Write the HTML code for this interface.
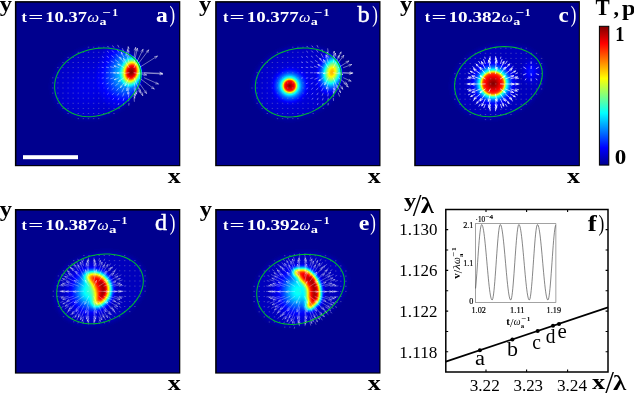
<!DOCTYPE html><html><head><meta charset="utf-8"><title>figure</title><style>html,body{margin:0;padding:0;background:#fff;overflow:hidden}svg{display:block;will-change:transform}text{font-family:"Liberation Serif",serif}</style></head><body><svg width="634" height="393" viewBox="0 0 634 393"><rect width="634" height="393" fill="#fff"/><defs><filter id="jet" x="0" y="0" width="1" height="1" color-interpolation-filters="sRGB"><feComponentTransfer><feFuncR type="table" tableValues="0 0 0 0 0.5 1 1 1 0.5"/><feFuncG type="table" tableValues="0 0 0.5 1 1 1 0.5 0 0"/><feFuncB type="table" tableValues="0.56 1 1 1 0.5 0 0 0 0"/></feComponentTransfer></filter><filter id="b1" x="-1" y="-1" width="3" height="3"><feGaussianBlur stdDeviation="1"/></filter><filter id="b3" x="-1" y="-1" width="3" height="3"><feGaussianBlur stdDeviation="3"/></filter><filter id="b15" x="-1" y="-1" width="3" height="3"><feGaussianBlur stdDeviation="1.6"/></filter><filter id="b2" x="-0.2" y="-0.2" width="1.4" height="1.4"><feGaussianBlur stdDeviation="2"/></filter><filter id="b25" x="-1" y="-1" width="3" height="3"><feGaussianBlur stdDeviation="2.5"/></filter><filter id="b22" x="-1" y="-1" width="3" height="3"><feGaussianBlur stdDeviation="2.2"/></filter><radialGradient id="ga"><stop offset="0.000" stop-color="#fff" stop-opacity="1.000"/><stop offset="0.125" stop-color="#fff" stop-opacity="0.970"/><stop offset="0.250" stop-color="#fff" stop-opacity="0.900"/><stop offset="0.375" stop-color="#fff" stop-opacity="0.790"/><stop offset="0.458" stop-color="#fff" stop-opacity="0.640"/><stop offset="0.558" stop-color="#fff" stop-opacity="0.460"/><stop offset="0.667" stop-color="#fff" stop-opacity="0.290"/><stop offset="0.792" stop-color="#fff" stop-opacity="0.150"/><stop offset="0.917" stop-color="#fff" stop-opacity="0.050"/><stop offset="1.000" stop-color="#fff" stop-opacity="0.000"/></radialGradient><radialGradient id="ga1"><stop offset="0" stop-color="#fff" stop-opacity="0.320"/><stop offset="0.1" stop-color="#fff" stop-opacity="0.309"/><stop offset="0.2" stop-color="#fff" stop-opacity="0.280"/><stop offset="0.3" stop-color="#fff" stop-opacity="0.236"/><stop offset="0.4" stop-color="#fff" stop-opacity="0.186"/><stop offset="0.5" stop-color="#fff" stop-opacity="0.137"/><stop offset="0.6" stop-color="#fff" stop-opacity="0.095"/><stop offset="0.7" stop-color="#fff" stop-opacity="0.061"/><stop offset="0.8" stop-color="#fff" stop-opacity="0.037"/><stop offset="0.9" stop-color="#fff" stop-opacity="0.021"/><stop offset="1" stop-color="#fff" stop-opacity="0.000"/></radialGradient><radialGradient id="ga2"><stop offset="0" stop-color="#fff" stop-opacity="0.050"/><stop offset="0.1" stop-color="#fff" stop-opacity="0.048"/><stop offset="0.2" stop-color="#fff" stop-opacity="0.044"/><stop offset="0.3" stop-color="#fff" stop-opacity="0.037"/><stop offset="0.4" stop-color="#fff" stop-opacity="0.029"/><stop offset="0.5" stop-color="#fff" stop-opacity="0.021"/><stop offset="0.6" stop-color="#fff" stop-opacity="0.015"/><stop offset="0.7" stop-color="#fff" stop-opacity="0.010"/><stop offset="0.8" stop-color="#fff" stop-opacity="0.006"/><stop offset="0.9" stop-color="#fff" stop-opacity="0.003"/><stop offset="1" stop-color="#fff" stop-opacity="0.000"/></radialGradient><clipPath id="ce0"><path d="M126.23 66.57 L126.88 69.25 L127.19 72.03 L127.17 74.88 L126.82 77.78 L126.14 80.73 L125.13 83.69 L123.81 86.65 L122.19 89.59 L120.28 92.48 L118.09 95.31 L115.64 98.05 L112.94 100.69 L110.03 103.19 L106.92 105.54 L103.63 107.71 L100.18 109.7 L96.61 111.46 L92.93 113 L89.18 114.29 L85.38 115.32 L81.55 116.08 L77.74 116.55 L73.95 116.73 L70.23 116.62 L66.6 116.21 L63.09 115.5 L59.72 114.5 L56.51 113.22 L53.51 111.66 L50.71 109.84 L48.16 107.78 L45.86 105.49 L43.84 102.99 L42.11 100.31 L40.7 97.47 L39.6 94.49 L38.83 91.41 L38.4 88.25 L38.31 85.04 L38.56 81.81 L39.15 78.59 L40.09 75.4 L41.36 72.27 L42.95 69.23 L44.85 66.3 L47.05 63.51 L49.53 60.87 L52.28 58.4 L55.26 56.13 L58.46 54.06 L61.85 52.21 L65.41 50.58 L69.1 49.2 L72.9 48.06 L76.77 47.16 L80.69 46.51 L84.63 46.12 L88.54 45.97 L92.41 46.07 L96.2 46.41 L99.89 46.99 L103.43 47.8 L106.81 48.83 L110.01 50.08 L112.98 51.53 L115.73 53.19 L118.21 55.02 L120.42 57.03 L122.34 59.21 L123.96 61.53 L125.26 63.99Z"/></clipPath><radialGradient id="gb1"><stop offset="0.000" stop-color="#fff" stop-opacity="1.000"/><stop offset="0.060" stop-color="#fff" stop-opacity="0.960"/><stop offset="0.125" stop-color="#fff" stop-opacity="0.920"/><stop offset="0.225" stop-color="#fff" stop-opacity="0.860"/><stop offset="0.275" stop-color="#fff" stop-opacity="0.780"/><stop offset="0.315" stop-color="#fff" stop-opacity="0.640"/><stop offset="0.365" stop-color="#fff" stop-opacity="0.470"/><stop offset="0.425" stop-color="#fff" stop-opacity="0.340"/><stop offset="0.500" stop-color="#fff" stop-opacity="0.240"/><stop offset="0.600" stop-color="#fff" stop-opacity="0.150"/><stop offset="0.725" stop-color="#fff" stop-opacity="0.080"/><stop offset="0.850" stop-color="#fff" stop-opacity="0.030"/><stop offset="1.000" stop-color="#fff" stop-opacity="0.000"/></radialGradient><radialGradient id="gb2"><stop offset="0" stop-color="#fff" stop-opacity="0.680"/><stop offset="0.1" stop-color="#fff" stop-opacity="0.657"/><stop offset="0.2" stop-color="#fff" stop-opacity="0.594"/><stop offset="0.3" stop-color="#fff" stop-opacity="0.502"/><stop offset="0.4" stop-color="#fff" stop-opacity="0.396"/><stop offset="0.5" stop-color="#fff" stop-opacity="0.292"/><stop offset="0.6" stop-color="#fff" stop-opacity="0.201"/><stop offset="0.7" stop-color="#fff" stop-opacity="0.130"/><stop offset="0.8" stop-color="#fff" stop-opacity="0.078"/><stop offset="0.9" stop-color="#fff" stop-opacity="0.044"/><stop offset="1" stop-color="#fff" stop-opacity="0.000"/></radialGradient><radialGradient id="gb3"><stop offset="0" stop-color="#fff" stop-opacity="0.060"/><stop offset="0.1" stop-color="#fff" stop-opacity="0.058"/><stop offset="0.2" stop-color="#fff" stop-opacity="0.052"/><stop offset="0.3" stop-color="#fff" stop-opacity="0.044"/><stop offset="0.4" stop-color="#fff" stop-opacity="0.035"/><stop offset="0.5" stop-color="#fff" stop-opacity="0.026"/><stop offset="0.6" stop-color="#fff" stop-opacity="0.018"/><stop offset="0.7" stop-color="#fff" stop-opacity="0.011"/><stop offset="0.8" stop-color="#fff" stop-opacity="0.007"/><stop offset="0.9" stop-color="#fff" stop-opacity="0.004"/><stop offset="1" stop-color="#fff" stop-opacity="0.000"/></radialGradient><clipPath id="ce1"><path d="M126.53 66.65 L127.18 69.35 L127.49 72.14 L127.47 75 L127.12 77.92 L126.44 80.88 L125.44 83.85 L124.12 86.82 L122.51 89.77 L120.6 92.68 L118.42 95.52 L115.98 98.28 L113.3 100.92 L110.4 103.43 L107.31 105.79 L104.03 107.98 L100.6 109.97 L97.04 111.75 L93.38 113.29 L89.65 114.59 L85.86 115.62 L82.06 116.38 L78.26 116.85 L74.5 117.03 L70.79 116.92 L67.18 116.51 L63.68 115.8 L60.32 114.79 L57.14 113.51 L54.14 111.94 L51.36 110.12 L48.82 108.04 L46.53 105.74 L44.52 103.23 L42.8 100.54 L41.39 97.69 L40.3 94.7 L39.53 91.6 L39.1 88.43 L39.01 85.21 L39.26 81.96 L39.86 78.73 L40.79 75.52 L42.05 72.38 L43.63 69.33 L45.53 66.39 L47.72 63.58 L50.19 60.93 L52.92 58.45 L55.89 56.17 L59.07 54.09 L62.45 52.23 L65.99 50.6 L69.66 49.21 L73.44 48.06 L77.3 47.16 L81.2 46.51 L85.12 46.11 L89.02 45.96 L92.87 46.06 L96.64 46.41 L100.31 46.99 L103.84 47.8 L107.2 48.84 L110.38 50.09 L113.34 51.55 L116.07 53.21 L118.55 55.06 L120.75 57.08 L122.66 59.26 L124.26 61.59 L125.56 64.06Z"/></clipPath><radialGradient id="gc1"><stop offset="0.000" stop-color="#fff" stop-opacity="1.000"/><stop offset="0.107" stop-color="#fff" stop-opacity="0.960"/><stop offset="0.214" stop-color="#fff" stop-opacity="0.900"/><stop offset="0.321" stop-color="#fff" stop-opacity="0.840"/><stop offset="0.368" stop-color="#fff" stop-opacity="0.780"/><stop offset="0.404" stop-color="#fff" stop-opacity="0.660"/><stop offset="0.439" stop-color="#fff" stop-opacity="0.520"/><stop offset="0.475" stop-color="#fff" stop-opacity="0.400"/><stop offset="0.536" stop-color="#fff" stop-opacity="0.280"/><stop offset="0.607" stop-color="#fff" stop-opacity="0.170"/><stop offset="0.696" stop-color="#fff" stop-opacity="0.090"/><stop offset="0.821" stop-color="#fff" stop-opacity="0.035"/><stop offset="1.000" stop-color="#fff" stop-opacity="0.000"/></radialGradient><radialGradient id="gc2"><stop offset="0" stop-color="#fff" stop-opacity="0.100"/><stop offset="0.1" stop-color="#fff" stop-opacity="0.097"/><stop offset="0.2" stop-color="#fff" stop-opacity="0.087"/><stop offset="0.3" stop-color="#fff" stop-opacity="0.074"/><stop offset="0.4" stop-color="#fff" stop-opacity="0.058"/><stop offset="0.5" stop-color="#fff" stop-opacity="0.043"/><stop offset="0.6" stop-color="#fff" stop-opacity="0.030"/><stop offset="0.7" stop-color="#fff" stop-opacity="0.019"/><stop offset="0.8" stop-color="#fff" stop-opacity="0.011"/><stop offset="0.9" stop-color="#fff" stop-opacity="0.006"/><stop offset="1" stop-color="#fff" stop-opacity="0.000"/></radialGradient><clipPath id="ce2"><path d="M127.64 65.57 L128.3 68.31 L128.62 71.14 L128.59 74.05 L128.24 77.01 L127.54 80.02 L126.52 83.04 L125.18 86.06 L123.53 89.06 L121.59 92.01 L119.36 94.9 L116.87 97.69 L114.13 100.38 L111.17 102.93 L108.01 105.33 L104.66 107.55 L101.16 109.57 L97.53 111.38 L93.8 112.95 L89.98 114.26 L86.12 115.31 L82.23 116.08 L78.36 116.57 L74.51 116.75 L70.73 116.64 L67.04 116.22 L63.47 115.49 L60.04 114.48 L56.79 113.17 L53.73 111.58 L50.89 109.72 L48.3 107.62 L45.96 105.28 L43.91 102.73 L42.16 99.99 L40.71 97.09 L39.6 94.06 L38.82 90.91 L38.38 87.69 L38.28 84.42 L38.54 81.12 L39.15 77.83 L40.1 74.58 L41.39 71.39 L43 68.28 L44.94 65.3 L47.17 62.44 L49.7 59.75 L52.48 57.24 L55.52 54.91 L58.77 52.8 L62.21 50.91 L65.83 49.26 L69.58 47.84 L73.44 46.68 L77.38 45.76 L81.36 45.1 L85.36 44.7 L89.34 44.55 L93.27 44.65 L97.12 45 L100.86 45.59 L104.47 46.41 L107.9 47.47 L111.15 48.74 L114.17 50.23 L116.96 51.91 L119.49 53.79 L121.73 55.84 L123.68 58.06 L125.32 60.42 L126.65 62.93Z"/></clipPath><radialGradient id="gd2"><stop offset="0" stop-color="#fff" stop-opacity="0.380"/><stop offset="0.1" stop-color="#fff" stop-opacity="0.367"/><stop offset="0.2" stop-color="#fff" stop-opacity="0.332"/><stop offset="0.3" stop-color="#fff" stop-opacity="0.280"/><stop offset="0.4" stop-color="#fff" stop-opacity="0.221"/><stop offset="0.5" stop-color="#fff" stop-opacity="0.163"/><stop offset="0.6" stop-color="#fff" stop-opacity="0.113"/><stop offset="0.7" stop-color="#fff" stop-opacity="0.073"/><stop offset="0.8" stop-color="#fff" stop-opacity="0.044"/><stop offset="0.9" stop-color="#fff" stop-opacity="0.025"/><stop offset="1" stop-color="#fff" stop-opacity="0.000"/></radialGradient><clipPath id="ce3"><path d="M128.63 64.88 L129.28 67.61 L129.6 70.43 L129.58 73.33 L129.22 76.28 L128.54 79.27 L127.53 82.28 L126.21 85.28 L124.58 88.27 L122.66 91.21 L120.46 94.08 L118 96.87 L115.3 99.55 L112.38 102.09 L109.25 104.47 L105.95 106.69 L102.49 108.7 L98.91 110.5 L95.22 112.06 L91.45 113.37 L87.64 114.42 L83.8 115.18 L79.97 115.66 L76.17 115.85 L72.44 115.73 L68.8 115.31 L65.27 114.6 L61.89 113.58 L58.67 112.28 L55.65 110.69 L52.85 108.85 L50.29 106.75 L47.98 104.42 L45.96 101.88 L44.22 99.16 L42.8 96.27 L41.7 93.25 L40.93 90.12 L40.49 86.91 L40.4 83.65 L40.65 80.37 L41.25 77.09 L42.19 73.85 L43.46 70.68 L45.06 67.59 L46.97 64.61 L49.18 61.77 L51.67 59.09 L54.42 56.59 L57.42 54.27 L60.63 52.17 L64.03 50.29 L67.6 48.64 L71.3 47.23 L75.11 46.07 L79 45.16 L82.94 44.51 L86.88 44.1 L90.81 43.95 L94.7 44.05 L98.5 44.4 L102.2 44.99 L105.75 45.81 L109.15 46.86 L112.35 48.13 L115.34 49.61 L118.09 51.28 L120.58 53.15 L122.8 55.19 L124.73 57.4 L126.35 59.76 L127.65 62.26Z"/></clipPath><radialGradient id="ge2"><stop offset="0" stop-color="#fff" stop-opacity="0.360"/><stop offset="0.1" stop-color="#fff" stop-opacity="0.348"/><stop offset="0.2" stop-color="#fff" stop-opacity="0.314"/><stop offset="0.3" stop-color="#fff" stop-opacity="0.266"/><stop offset="0.4" stop-color="#fff" stop-opacity="0.210"/><stop offset="0.5" stop-color="#fff" stop-opacity="0.155"/><stop offset="0.6" stop-color="#fff" stop-opacity="0.107"/><stop offset="0.7" stop-color="#fff" stop-opacity="0.069"/><stop offset="0.8" stop-color="#fff" stop-opacity="0.041"/><stop offset="0.9" stop-color="#fff" stop-opacity="0.023"/><stop offset="1" stop-color="#fff" stop-opacity="0.000"/></radialGradient><clipPath id="ce4"><path d="M129.74 65.27 L130.4 68.01 L130.72 70.84 L130.69 73.75 L130.34 76.71 L129.64 79.72 L128.62 82.74 L127.28 85.76 L125.63 88.76 L123.69 91.71 L121.46 94.6 L118.97 97.39 L116.23 100.08 L113.27 102.63 L110.11 105.03 L106.76 107.25 L103.26 109.27 L99.63 111.08 L95.9 112.65 L92.08 113.96 L88.22 115.01 L84.33 115.78 L80.46 116.27 L76.61 116.45 L72.83 116.34 L69.14 115.92 L65.57 115.19 L62.14 114.18 L58.89 112.87 L55.83 111.28 L52.99 109.42 L50.4 107.32 L48.06 104.98 L46.01 102.43 L44.26 99.69 L42.81 96.79 L41.7 93.76 L40.92 90.61 L40.48 87.39 L40.38 84.12 L40.64 80.82 L41.25 77.53 L42.2 74.28 L43.49 71.09 L45.1 67.98 L47.04 65 L49.27 62.14 L51.8 59.45 L54.58 56.94 L57.62 54.61 L60.87 52.5 L64.31 50.61 L67.93 48.96 L71.68 47.54 L75.54 46.38 L79.48 45.46 L83.46 44.8 L87.46 44.4 L91.44 44.25 L95.37 44.35 L99.22 44.7 L102.96 45.29 L106.57 46.11 L110 47.17 L113.25 48.44 L116.27 49.93 L119.06 51.61 L121.59 53.49 L123.83 55.54 L125.78 57.76 L127.42 60.12 L128.75 62.63Z"/></clipPath></defs><g transform="translate(15 1)"><rect x="-0.1" y="0.1" width="165.4" height="165.1" fill="#000"/><g filter="url(#jet)"><rect x="1.45" y="1.65" width="162.75" height="162.45" fill="#000"/><path d="M127.5 66.14 L128.17 68.9 L128.49 71.76 L128.47 74.69 L128.1 77.68 L127.4 80.71 L126.37 83.76 L125.01 86.8 L123.34 89.83 L121.37 92.81 L119.12 95.72 L116.59 98.54 L113.82 101.25 L110.83 103.82 L107.62 106.24 L104.23 108.48 L100.69 110.52 L97.01 112.34 L93.23 113.92 L89.37 115.25 L85.45 116.31 L81.52 117.09 L77.59 117.57 L73.7 117.76 L69.87 117.64 L66.13 117.22 L62.52 116.49 L59.05 115.47 L55.75 114.14 L52.65 112.54 L49.78 110.67 L47.15 108.55 L44.79 106.19 L42.71 103.62 L40.93 100.86 L39.47 97.93 L38.34 94.87 L37.55 91.7 L37.1 88.45 L37.01 85.15 L37.27 81.83 L37.88 78.51 L38.85 75.23 L40.15 72.01 L41.79 68.88 L43.75 65.86 L46.01 62.99 L48.57 60.27 L51.39 57.73 L54.46 55.39 L57.75 53.26 L61.25 51.36 L64.9 49.69 L68.7 48.26 L72.61 47.09 L76.6 46.16 L80.63 45.5 L84.68 45.09 L88.71 44.94 L92.69 45.04 L96.6 45.39 L100.39 45.99 L104.03 46.82 L107.51 47.88 L110.8 49.17 L113.86 50.67 L116.69 52.36 L119.24 54.26 L121.52 56.32 L123.49 58.56 L125.16 60.95 L126.49 63.48Z" fill="#fff" fill-opacity="0.05" filter="url(#b2)"/><g clip-path="url(#ce0)"><ellipse cx="116.4" cy="70.8" rx="12" ry="17" fill="url(#ga)" transform="rotate(12 116.4 70.8)"/><ellipse cx="113" cy="71" rx="32.5" ry="42.9" fill="url(#ga1)" transform="rotate(12 113 71)"/><ellipse cx="78" cy="84" rx="67.6" ry="46.8" fill="url(#ga2)" transform="rotate(-20 78 84)"/></g></g><path d="M93.59 46.21 L92.75 45.3M98.69 46.21 L97.73 44.86M103.8 46.21 L102.78 44.24M93.59 51.31 L92.47 50.34M98.69 51.31 L97.31 49.78M103.8 51.31 L102.2 48.86M108.89 51.31 L107.4 47.53M113.99 51.31 L113.25 46M113.25 46 L114.1 47.36M113.25 46 L112.8 47.54M88.49 56.41 L87.41 55.84M93.59 56.41 L92.14 55.47M98.69 56.41 L96.75 54.81M103.8 56.41 L101.34 53.59M108.89 56.41 L106.32 51.55M106.32 51.55 L107.62 52.57M106.32 51.55 L106.43 53.2M113.99 56.41 L112.56 48.77M112.56 48.77 L113.88 50.68M112.56 48.77 L112.02 51.04M119.09 56.41 L120.59 46.69M120.59 46.69 L121.28 49.2M120.59 46.69 L119.18 48.87M88.49 61.51 L87.21 61.06M93.59 61.51 L91.78 60.74M98.69 61.51 L96.1 60.1M103.8 61.51 L100.24 58.83M108.89 61.51 L104.71 56.33M104.71 56.33 L106.49 57.24M104.71 56.33 L105.23 58.26M113.99 61.51 L111.2 51.75M111.2 51.75 L112.87 53.74M111.2 51.75 L110.83 54.32M119.09 61.51 L122.38 47.5M122.38 47.5 L122.87 50.05M122.38 47.5 L120.8 49.57M124.19 61.51 L133.54 49.13M133.54 49.13 L132.96 51.66M133.54 49.13 L131.27 50.39M88.49 66.61 L87.06 66.37M93.59 66.61 L91.49 66.18M98.69 66.61 L95.54 65.79M103.8 66.61 L99.24 64.96M99.24 64.96 L100.69 64.86M99.24 64.96 L100.29 65.97M108.89 66.61 L103.03 63.12M103.03 63.12 L105.06 63.36M103.03 63.12 L104.21 64.8M113.99 66.61 L108.63 57.63M108.63 57.63 L110.76 59.13M108.63 57.63 L108.94 60.21M119.09 66.61 L127.94 48.52M127.94 48.52 L127.85 51.12M127.94 48.52 L125.94 50.19M124.19 66.61 L142.18 55.2M142.18 55.2 L140.74 57.36M142.18 55.2 L139.61 55.57M88.49 71.71 L87.02 71.73M93.59 71.71 L91.39 71.75M98.69 71.71 L95.34 71.78M103.8 71.71 L98.85 71.86M98.85 71.86 L100.19 71.22M98.85 71.86 L100.22 72.43M108.89 71.71 L102.27 72.05M102.27 72.05 L104.04 71.15M102.27 72.05 L104.12 72.77M113.99 71.71 L109.62 72.34M119.09 71.71 L131.35 73.89M131.35 73.89 L128.83 74.52M131.35 73.89 L129.2 72.43M124.19 71.71 L147.64 73M147.64 73 L145.22 73.93M147.64 73 L145.33 71.81M129.29 71.71 L147.03 72.29M147.03 72.29 L144.63 73.27M147.03 72.29 L144.7 71.15M88.49 76.81 L87.1 77.08M93.59 76.81 L91.56 77.29M98.69 76.81 L95.69 77.72M103.8 76.81 L99.57 78.6M99.57 78.6 L100.51 77.59M99.57 78.6 L100.94 78.63M108.89 76.81 L103.75 80.39M103.75 80.39 L104.72 78.78M103.75 80.39 L105.6 80.04M113.99 76.81 L109.99 84.67M109.99 84.67 L110.12 82.08M109.99 84.67 L112.01 83.04M119.09 76.81 L125.23 91.54M125.23 91.54 L123.34 89.76M125.23 91.54 L125.3 88.94M124.19 76.81 L139 87.83M139 87.83 L136.46 87.27M139 87.83 L137.73 85.57M129.29 76.81 L143.19 82.93M143.19 82.93 L140.59 82.95M143.19 82.93 L141.45 81.01M88.49 81.91 L87.29 82.36M93.59 81.91 L91.92 82.67M98.69 81.91 L96.38 83.27M103.8 81.91 L100.77 84.38M108.89 81.91 L105.59 86.35M105.59 86.35 L105.95 84.73M105.59 86.35 L107.04 85.54M113.99 81.91 L111.96 89.61M111.96 89.61 L111.57 87.25M111.96 89.61 L113.46 87.75M119.09 81.91 L121.46 92.84M121.46 92.84 L119.92 90.74M121.46 92.84 L121.99 90.29M124.19 81.91 L131.39 92.23M131.39 92.23 L129.16 90.89M131.39 92.23 L130.9 89.68M93.59 87.01 L92.31 87.88M98.69 87.01 L97.05 88.44M103.8 87.01 L101.82 89.39M108.89 87.01 L106.94 90.89M113.99 87.01 L112.95 92.87M112.95 92.87 L112.52 91.13M112.95 92.87 L113.95 91.39M119.09 87.01 L120.18 94.45M120.18 94.45 L118.97 92.55M120.18 94.45 L120.8 92.28M124.19 87.01 L127.67 94.39M127.67 94.39 L125.81 92.79M127.67 94.39 L127.62 91.94M93.59 92.11 L92.64 92.96M98.69 92.11 L97.57 93.41M103.8 92.11 L102.56 94.09M108.89 92.11 L107.78 95.05M113.99 92.11 L113.45 96.14M119.09 92.11 L119.63 96.94M119.63 96.94 L118.89 95.68M119.63 96.94 L120.07 95.55M98.69 97.21 L97.92 98.31M103.8 97.21 L103.01 98.77M108.89 97.21 L108.24 99.34M113.99 97.21 L113.7 99.94M119.09 97.21 L119.37 100.37M103.8 102.31 L103.28 103.53M108.89 102.31 L108.49 103.88M113.99 102.31 L113.82 104.22" stroke="#fff" stroke-width="0.6" fill="none" stroke-opacity="0.72" stroke-linecap="round"/><path d="M73.19 46.21h0.6M78.3 46.21h0.6M83.39 46.21h0.6M88.49 46.21h0.6M63 51.31h0.6M68.09 51.31h0.6M73.19 51.31h0.6M78.3 51.31h0.6M83.39 51.31h0.6M88.49 51.31h0.6M52.8 56.41h0.6M57.9 56.41h0.6M63 56.41h0.6M68.09 56.41h0.6M73.19 56.41h0.6M78.3 56.41h0.6M83.39 56.41h0.6M47.7 61.51h0.6M52.8 61.51h0.6M57.9 61.51h0.6M63 61.51h0.6M68.09 61.51h0.6M73.19 61.51h0.6M78.3 61.51h0.6M83.39 61.51h0.6M42.6 66.61h0.6M47.7 66.61h0.6M52.8 66.61h0.6M57.9 66.61h0.6M63 66.61h0.6M68.09 66.61h0.6M73.19 66.61h0.6M78.3 66.61h0.6M83.39 66.61h0.6M42.6 71.71h0.6M47.7 71.71h0.6M52.8 71.71h0.6M57.9 71.71h0.6M63 71.71h0.6M68.09 71.71h0.6M73.19 71.71h0.6M78.3 71.71h0.6M83.39 71.71h0.6M37.5 76.81h0.6M42.6 76.81h0.6M47.7 76.81h0.6M52.8 76.81h0.6M57.9 76.81h0.6M63 76.81h0.6M68.09 76.81h0.6M73.19 76.81h0.6M78.3 76.81h0.6M83.39 76.81h0.6M37.5 81.91h0.6M42.6 81.91h0.6M47.7 81.91h0.6M52.8 81.91h0.6M57.9 81.91h0.6M63 81.91h0.6M68.09 81.91h0.6M73.19 81.91h0.6M78.3 81.91h0.6M83.39 81.91h0.6M37.5 87.01h0.6M42.6 87.01h0.6M47.7 87.01h0.6M52.8 87.01h0.6M57.9 87.01h0.6M63 87.01h0.6M68.09 87.01h0.6M73.19 87.01h0.6M78.3 87.01h0.6M83.39 87.01h0.6M88.49 87.01h0.6M37.5 92.11h0.6M42.6 92.11h0.6M47.7 92.11h0.6M52.8 92.11h0.6M57.9 92.11h0.6M63 92.11h0.6M68.09 92.11h0.6M73.19 92.11h0.6M78.3 92.11h0.6M83.39 92.11h0.6M88.49 92.11h0.6M42.6 97.21h0.6M47.7 97.21h0.6M52.8 97.21h0.6M57.9 97.21h0.6M63 97.21h0.6M68.09 97.21h0.6M73.19 97.21h0.6M78.3 97.21h0.6M83.39 97.21h0.6M88.49 97.21h0.6M93.59 97.21h0.6M42.6 102.31h0.6M47.7 102.31h0.6M52.8 102.31h0.6M57.9 102.31h0.6M63 102.31h0.6M68.09 102.31h0.6M73.19 102.31h0.6M78.3 102.31h0.6M83.39 102.31h0.6M88.49 102.31h0.6M93.59 102.31h0.6M98.69 102.31h0.6M47.7 107.41h0.6M52.8 107.41h0.6M57.9 107.41h0.6M63 107.41h0.6M68.09 107.41h0.6M73.19 107.41h0.6M78.3 107.41h0.6M83.39 107.41h0.6M88.49 107.41h0.6M93.59 107.41h0.6M98.69 107.41h0.6M103.8 107.41h0.6M52.8 112.51h0.6M57.9 112.51h0.6M63 112.51h0.6M68.09 112.51h0.6M73.19 112.51h0.6M78.3 112.51h0.6M83.39 112.51h0.6M88.49 112.51h0.6M93.59 112.51h0.6M98.69 112.51h0.6M63 117.61h0.6M68.09 117.61h0.6M73.19 117.61h0.6M78.3 117.61h0.6M83.39 117.61h0.6" stroke="#aab" stroke-width="0.9" stroke-opacity="0.4" stroke-linecap="round" fill="none"/><path d="M124.97 67 L125.6 69.61 L125.9 72.3 L125.88 75.07 L125.54 77.89 L124.88 80.75 L123.9 83.62 L122.62 86.5 L121.04 89.35 L119.18 92.16 L117.06 94.9 L114.68 97.57 L112.07 100.12 L109.24 102.55 L106.21 104.83 L103.02 106.95 L99.67 108.87 L96.2 110.59 L92.63 112.08 L88.99 113.33 L85.3 114.33 L81.59 115.07 L77.88 115.52 L74.21 115.7 L70.6 115.59 L67.07 115.19 L63.66 114.5 L60.39 113.53 L57.28 112.29 L54.36 110.78 L51.65 109.01 L49.16 107.01 L46.93 104.78 L44.97 102.36 L43.3 99.75 L41.92 97 L40.85 94.11 L40.11 91.12 L39.69 88.05 L39.6 84.93 L39.85 81.8 L40.42 78.67 L41.33 75.57 L42.56 72.54 L44.11 69.58 L45.96 66.74 L48.09 64.03 L50.5 61.47 L53.17 59.07 L56.06 56.86 L59.17 54.85 L62.46 53.06 L65.91 51.48 L69.5 50.14 L73.19 49.03 L76.95 48.16 L80.75 47.53 L84.57 47.14 L88.38 47 L92.13 47.1 L95.81 47.43 L99.39 47.99 L102.83 48.78 L106.11 49.78 L109.21 50.99 L112.1 52.4 L114.76 54.01 L117.18 55.79 L119.32 57.74 L121.19 59.85 L122.76 62.11 L124.02 64.49Z" fill="none" stroke="#00bb2c" stroke-width="1.05"/><rect x="8" y="154.2" width="55" height="4" fill="#fff"/></g>
<g transform="translate(215 1)"><rect x="0.15" y="0.1" width="165.35" height="165.1" fill="#000"/><g filter="url(#jet)"><rect x="1.7" y="1.65" width="162.7" height="162.45" fill="#000"/><path d="M127.79 66.22 L128.46 69 L128.78 71.87 L128.76 74.81 L128.39 77.81 L127.7 80.86 L126.67 83.92 L125.31 86.98 L123.65 90.01 L121.69 93.01 L119.45 95.93 L116.94 98.76 L114.18 101.49 L111.2 104.07 L108.01 106.5 L104.63 108.75 L101.11 110.8 L97.45 112.63 L93.68 114.22 L89.84 115.55 L85.94 116.61 L82.02 117.39 L78.11 117.88 L74.24 118.07 L70.43 117.95 L66.71 117.53 L63.11 116.8 L59.66 115.76 L56.38 114.44 L53.29 112.83 L50.43 110.95 L47.81 108.82 L45.46 106.45 L43.39 103.87 L41.62 101.09 L40.17 98.16 L39.05 95.08 L38.26 91.9 L37.82 88.63 L37.72 85.32 L37.98 81.98 L38.59 78.65 L39.55 75.35 L40.85 72.12 L42.48 68.97 L44.43 65.95 L46.68 63.06 L49.23 60.33 L52.04 57.78 L55.09 55.43 L58.37 53.29 L61.84 51.38 L65.49 49.7 L69.27 48.27 L73.16 47.09 L77.13 46.16 L81.14 45.49 L85.17 45.08 L89.19 44.93 L93.15 45.03 L97.03 45.39 L100.8 45.98 L104.44 46.82 L107.9 47.89 L111.17 49.18 L114.22 50.68 L117.03 52.39 L119.57 54.29 L121.84 56.37 L123.8 58.61 L125.46 61.01 L126.79 63.55Z" fill="#fff" fill-opacity="0.05" filter="url(#b2)"/><g clip-path="url(#ce1)"><ellipse cx="74.7" cy="84.8" rx="20" ry="20" fill="url(#gb1)"/><ellipse cx="117" cy="71.1" rx="16.12" ry="24.7" fill="url(#gb2)" transform="rotate(12 117 71.1)"/><ellipse cx="80" cy="84" rx="62.4" ry="44.2" fill="url(#gb3)" transform="rotate(-20 80 84)"/></g></g><path d="M92.8 46.21 L91.92 45.26M97.89 46.21 L96.96 44.92M103 46.21 L102.11 44.49M92.8 51.31 L91.7 50.36M97.89 51.31 L96.66 49.95M103 51.31 L101.72 49.35M108.09 51.31 L107 48.55M113.19 51.31 L112.7 47.75M87.69 56.41 L86.6 55.83M92.8 56.41 L91.46 55.55M97.89 56.41 L96.29 55.08M103 56.41 L101.11 54.25M108.09 56.41 L106.21 52.86M113.19 56.41 L112.22 51.22M112.22 51.22 L113.12 52.52M112.22 51.22 L111.85 52.76M118.3 56.41 L119.22 50.43M119.22 50.43 L119.7 52.18M119.22 50.43 L118.23 51.95M123.39 56.41 L125.99 51.19M125.99 51.19 L125.91 52.94M125.99 51.19 L124.64 52.3M87.69 61.51 L86.48 61.09M92.8 61.51 L91.25 60.86M97.89 61.51 L95.86 60.4M103 61.51 L100.23 59.43M108.09 61.51 L104.78 57.41M104.78 57.41 L106.19 58.13M104.78 57.41 L105.19 58.94M113.19 61.51 L111.1 54.18M111.1 54.18 L112.57 55.93M111.1 54.18 L110.77 56.44M118.3 61.51 L120.43 52.41M120.43 52.41 L120.92 54.96M120.43 52.41 L118.85 54.48M123.39 61.51 L128.69 54.5M128.69 54.5 L128.1 57.03M128.69 54.5 L126.41 55.75M87.69 66.61 L86.41 66.39M92.8 66.61 L91.11 66.27M97.89 66.61 L95.52 65.99M103 66.61 L99.43 65.32M108.09 66.61 L103.06 63.62M103.06 63.62 L104.81 63.82M103.06 63.62 L104.08 65.05M113.19 66.61 L108.55 58.83M108.55 58.83 L110.68 60.33M108.55 58.83 L108.86 61.42M118.3 66.61 L124.15 54.64M124.15 54.64 L124.06 57.24M124.15 54.64 L122.16 56.3M123.39 66.61 L133.63 60.11M133.63 60.11 L132.19 62.28M133.63 60.11 L131.06 60.49M128.5 66.61 L136.59 63.57M136.59 63.57 L134.74 65.39M136.59 63.57 L134 63.41M87.69 71.71 L86.41 71.73M92.8 71.71 L91.1 71.74M97.89 71.71 L95.47 71.76M103 71.71 L99.29 71.82M108.09 71.71 L102.69 71.99M102.69 71.99 L104.13 71.25M102.69 71.99 L104.2 72.57M113.19 71.71 L108.48 72.39M108.48 72.39 L109.69 71.63M108.48 72.39 L109.85 72.78M118.3 71.71 L127.57 73.36M127.57 73.36 L125.05 73.99M127.57 73.36 L125.42 71.9M123.39 71.71 L136.71 72.44M136.71 72.44 L134.28 73.37M136.71 72.44 L134.4 71.25M128.5 71.71 L137.72 72.01M137.72 72.01 L135.32 72.99M137.72 72.01 L135.39 70.87M87.69 76.81 L86.48 77.04M92.8 76.81 L91.23 77.18M97.89 76.81 L95.74 77.46M103 76.81 L99.87 78.13M108.09 76.81 L103.94 79.71M103.94 79.71 L104.72 78.4M103.94 79.71 L105.43 79.42M113.19 76.81 L109.78 83.52M109.78 83.52 L109.89 81.26M109.78 83.52 L111.54 82.1M118.3 76.81 L122.56 87.05M122.56 87.05 L120.67 85.27M122.56 87.05 L122.63 84.45M123.39 76.81 L132.06 83.26M132.06 83.26 L129.52 82.69M132.06 83.26 L130.79 80.99M128.5 76.81 L135.81 80.03M135.81 80.03 L133.41 80.04M135.81 80.03 L134.2 78.25M92.8 81.91 L91.44 82.53M97.89 81.91 L96.16 82.92M103 81.91 L100.76 83.73M108.09 81.91 L105.55 85.33M113.19 81.91 L111.65 87.76M111.65 87.76 L111.35 85.97M111.65 87.76 L112.79 86.35M118.3 81.91 L119.89 89.27M119.89 89.27 L118.55 87.45M119.89 89.27 L120.35 87.06M123.39 81.91 L127.62 87.97M127.62 87.97 L125.72 86.83M127.62 87.97 L127.2 85.79M128.5 81.91 L133.03 85.76M133.03 85.76 L131.32 85.26M133.03 85.76 L132.26 84.15M92.8 87.01 L91.67 87.77M97.89 87.01 L96.58 88.15M103 87.01 L101.51 88.81M108.09 87.01 L106.66 89.85M113.19 87.01 L112.46 91.1M118.3 87.01 L118.99 91.79M118.99 91.79 L118.22 90.56M118.99 91.79 L119.39 90.39M123.39 87.01 L125.44 91.35M125.44 91.35 L124.35 90.41M125.44 91.35 L125.41 89.91M92.8 92.11 L91.89 92.92M97.89 92.11 L96.9 93.25M103 92.11 L101.99 93.71M108.09 92.11 L107.25 94.32M113.19 92.11 L112.81 94.94M118.3 92.11 L118.65 95.29M123.39 92.11 L124.49 95.18M97.89 97.21 L97.15 98.27M103 97.21 L102.29 98.61M108.09 97.21 L107.55 98.98M113.19 97.21 L112.97 99.33M118.3 97.21 L118.5 99.53M103 102.31 L102.5 103.5M108.09 102.31 L107.73 103.76M113.19 102.31 L113.04 103.98" stroke="#fff" stroke-width="0.6" fill="none" stroke-opacity="0.72" stroke-linecap="round"/><path d="M77.5 46.21h0.6M82.59 46.21h0.6M87.69 46.21h0.6M62.2 51.31h0.6M67.3 51.31h0.6M72.39 51.31h0.6M77.5 51.31h0.6M82.59 51.31h0.6M87.69 51.31h0.6M57.1 56.41h0.6M62.2 56.41h0.6M67.3 56.41h0.6M72.39 56.41h0.6M77.5 56.41h0.6M82.59 56.41h0.6M46.9 61.51h0.6M52 61.51h0.6M57.1 61.51h0.6M62.2 61.51h0.6M67.3 61.51h0.6M72.39 61.51h0.6M77.5 61.51h0.6M82.59 61.51h0.6M46.9 66.61h0.6M52 66.61h0.6M57.1 66.61h0.6M62.2 66.61h0.6M67.3 66.61h0.6M72.39 66.61h0.6M77.5 66.61h0.6M82.59 66.61h0.6M41.8 71.71h0.6M46.9 71.71h0.6M52 71.71h0.6M57.1 71.71h0.6M62.2 71.71h0.6M67.3 71.71h0.6M72.39 71.71h0.6M77.5 71.71h0.6M82.59 71.71h0.6M41.8 76.81h0.6M46.9 76.81h0.6M52 76.81h0.6M57.1 76.81h0.6M62.2 76.81h0.6M67.3 76.81h0.6M72.39 76.81h0.6M77.5 76.81h0.6M82.59 76.81h0.6M41.8 81.91h0.6M46.9 81.91h0.6M52 81.91h0.6M57.1 81.91h0.6M62.2 81.91h0.6M67.3 81.91h0.6M72.39 81.91h0.6M77.5 81.91h0.6M82.59 81.91h0.6M87.69 81.91h0.6M36.7 87.01h0.6M41.8 87.01h0.6M46.9 87.01h0.6M52 87.01h0.6M57.1 87.01h0.6M62.2 87.01h0.6M67.3 87.01h0.6M72.39 87.01h0.6M77.5 87.01h0.6M82.59 87.01h0.6M87.69 87.01h0.6M41.8 92.11h0.6M46.9 92.11h0.6M52 92.11h0.6M57.1 92.11h0.6M62.2 92.11h0.6M67.3 92.11h0.6M72.39 92.11h0.6M77.5 92.11h0.6M82.59 92.11h0.6M87.69 92.11h0.6M41.8 97.21h0.6M46.9 97.21h0.6M52 97.21h0.6M57.1 97.21h0.6M62.2 97.21h0.6M67.3 97.21h0.6M72.39 97.21h0.6M77.5 97.21h0.6M82.59 97.21h0.6M87.69 97.21h0.6M92.8 97.21h0.6M41.8 102.31h0.6M46.9 102.31h0.6M52 102.31h0.6M57.1 102.31h0.6M62.2 102.31h0.6M67.3 102.31h0.6M72.39 102.31h0.6M77.5 102.31h0.6M82.59 102.31h0.6M87.69 102.31h0.6M92.8 102.31h0.6M97.89 102.31h0.6M46.9 107.41h0.6M52 107.41h0.6M57.1 107.41h0.6M62.2 107.41h0.6M67.3 107.41h0.6M72.39 107.41h0.6M77.5 107.41h0.6M82.59 107.41h0.6M87.69 107.41h0.6M92.8 107.41h0.6M97.89 107.41h0.6M103 107.41h0.6M108.09 107.41h0.6M52 112.51h0.6M57.1 112.51h0.6M62.2 112.51h0.6M67.3 112.51h0.6M72.39 112.51h0.6M77.5 112.51h0.6M82.59 112.51h0.6M87.69 112.51h0.6M92.8 112.51h0.6M97.89 112.51h0.6M62.2 117.61h0.6M67.3 117.61h0.6M72.39 117.61h0.6M77.5 117.61h0.6M82.59 117.61h0.6" stroke="#aab" stroke-width="0.9" stroke-opacity="0.4" stroke-linecap="round" fill="none"/><path d="M125.27 67.08 L125.9 69.7 L126.2 72.41 L126.18 75.19 L125.84 78.02 L125.18 80.89 L124.21 83.78 L122.93 86.67 L121.37 89.53 L119.52 92.35 L117.4 95.11 L115.03 97.79 L112.43 100.35 L109.61 102.79 L106.6 105.09 L103.42 107.21 L100.1 109.14 L96.64 110.86 L93.09 112.36 L89.46 113.62 L85.79 114.63 L82.09 115.36 L78.41 115.82 L74.75 116 L71.15 115.89 L67.65 115.49 L64.25 114.8 L60.99 113.82 L57.9 112.57 L54.99 111.06 L52.29 109.28 L49.82 107.27 L47.6 105.03 L45.65 102.6 L43.98 99.98 L42.61 97.21 L41.55 94.31 L40.81 91.31 L40.39 88.23 L40.3 85.1 L40.54 81.95 L41.12 78.81 L42.02 75.7 L43.25 72.65 L44.79 69.68 L46.63 66.83 L48.75 64.1 L51.15 61.53 L53.8 59.12 L56.69 56.91 L59.78 54.89 L63.06 53.08 L66.49 51.5 L70.06 50.15 L73.73 49.03 L77.47 48.16 L81.26 47.53 L85.06 47.14 L88.85 47 L92.59 47.1 L96.25 47.43 L99.81 47.99 L103.24 48.78 L106.5 49.79 L109.59 51.01 L112.47 52.43 L115.12 54.04 L117.52 55.83 L119.65 57.79 L121.51 59.91 L123.07 62.17 L124.33 64.57Z" fill="none" stroke="#00bb2c" stroke-width="1.05"/></g>
<g transform="translate(415 1)"><rect x="-0.8" y="0.1" width="165.7" height="165.1" fill="#000"/><g filter="url(#jet)"><rect x="0.75" y="1.65" width="163.05" height="162.45" fill="#000"/><path d="M128.93 65.13 L129.6 67.95 L129.93 70.86 L129.91 73.85 L129.54 76.91 L128.83 80 L127.78 83.11 L126.4 86.22 L124.7 89.3 L122.7 92.34 L120.41 95.31 L117.84 98.19 L115.03 100.95 L111.98 103.58 L108.72 106.05 L105.28 108.33 L101.68 110.42 L97.94 112.27 L94.1 113.89 L90.17 115.24 L86.2 116.32 L82.2 117.12 L78.21 117.61 L74.25 117.8 L70.36 117.68 L66.56 117.25 L62.89 116.51 L59.36 115.46 L56.01 114.11 L52.87 112.48 L49.94 110.57 L47.27 108.4 L44.87 105.99 L42.76 103.37 L40.95 100.56 L39.47 97.57 L38.32 94.45 L37.52 91.21 L37.06 87.9 L36.97 84.53 L37.23 81.13 L37.86 77.75 L38.83 74.4 L40.16 71.12 L41.82 67.92 L43.82 64.85 L46.12 61.91 L48.71 59.14 L51.58 56.55 L54.7 54.16 L58.05 51.99 L61.6 50.05 L65.31 48.34 L69.18 46.89 L73.15 45.69 L77.2 44.75 L81.3 44.07 L85.41 43.65 L89.51 43.5 L93.56 43.6 L97.52 43.96 L101.37 44.57 L105.08 45.42 L108.62 46.5 L111.95 47.81 L115.07 49.34 L117.94 51.07 L120.54 53 L122.85 55.11 L124.85 57.4 L126.54 59.84 L127.9 62.42Z" fill="#fff" fill-opacity="0.05" filter="url(#b2)"/><g clip-path="url(#ce2)"><ellipse cx="78.1" cy="82.5" rx="28" ry="28" fill="url(#gc1)"/><ellipse cx="115.9" cy="70.6" rx="11.7" ry="15.6" fill="url(#gc2)"/></g></g><path d="M70.19 57.41 L69.8 56.16M75.29 57.41 L75.1 55.64M80.39 57.41 L80.56 55.61M85.49 57.41 L85.88 56.09M65.09 62.51 L63.7 60.36M70.19 62.51 L68.63 58.56M75.29 62.51 L74.56 57.26M74.56 57.26 L75.4 58.61M74.56 57.26 L74.12 58.79M80.39 62.51 L81.01 57.19M81.01 57.19 L81.49 58.72M81.01 57.19 L80.19 58.57M85.49 62.51 L87.02 58.39M90.59 62.51 L92.05 60.18M116.09 62.51 L116.13 60.89M59.99 67.61 L57.81 65.81M65.09 67.61 L61.39 63.36M61.39 63.36 L62.92 64.07M61.39 63.36 L61.88 64.98M70.19 67.61 L66.59 60.82M66.59 60.82 L68.41 62.24M66.59 60.82 L66.75 63.12M75.29 67.61 L73.75 59.39M73.75 59.39 L75.18 61.45M73.75 59.39 L73.17 61.83M80.39 67.61 L81.67 59.32M81.67 59.32 L82.34 61.75M81.67 59.32 L80.31 61.44M85.49 67.61 L88.97 60.62M88.97 60.62 L88.87 62.96M88.97 60.62 L87.16 62.11M90.59 67.61 L94.39 63.09M94.39 63.09 L93.9 64.79M94.39 63.09 L92.8 63.86M95.69 67.61 L98.05 65.61M110.99 67.61 L108.72 66.2M116.09 67.61 L116.25 65.27M121.19 67.61 L123.39 66.37M54.9 72.71 L53.22 72M59.99 72.71 L55.62 70.34M55.62 70.34 L57.11 70.45M55.62 70.34 L56.53 71.52M65.09 72.71 L58.73 67.91M58.73 67.91 L61.06 68.45M58.73 67.91 L59.88 70.01M70.19 72.71 L65.04 66.33M65.04 66.33 L67.23 67.44M65.04 66.33 L65.67 68.7M75.29 72.71 L73.49 66.4M73.49 66.4 L74.75 67.91M73.49 66.4 L73.21 68.35M80.39 72.71 L81.87 66.43M81.87 66.43 L82.23 68.33M81.87 66.43 L80.7 67.97M85.49 72.71 L90.35 66.28M90.35 66.28 L89.81 68.63M90.35 66.28 L88.23 67.44M90.59 72.71 L97 67.69M97 67.69 L95.86 69.85M97 67.69 L94.63 68.28M95.69 72.71 L100.35 70.11M100.35 70.11 L99.4 71.39M100.35 70.11 L98.76 70.25M100.79 72.71 L102.57 71.91M110.99 72.71 L108.4 73.83M116.09 72.71 L116.26 74.48M121.19 72.71 L123.71 73.71M54.9 77.81 L52.27 77.28M59.99 77.81 L53.73 76.19M53.73 76.19 L55.65 75.86M53.73 76.19 L55.25 77.4M65.09 77.81 L57.1 74.92M57.1 74.92 L59.65 74.74M57.1 74.92 L58.94 76.69M70.19 77.81 L65.35 74.93M65.35 74.93 L67.03 75.13M65.35 74.93 L66.32 76.31M85.49 77.81 L89.9 75.01M89.9 75.01 L89.03 76.32M89.9 75.01 L88.35 75.24M90.59 77.81 L98.49 74.84M98.49 74.84 L96.69 76.62M98.49 74.84 L95.97 74.69M95.69 77.81 L102.29 76.05M102.29 76.05 L100.7 77.34M102.29 76.05 L100.27 75.72M100.79 77.81 L103.69 77.22M110.99 77.81 L110.31 78.93M116.09 77.81 L116.15 79.8M121.19 77.81 L121.96 78.85M54.9 82.91 L51.91 82.96M59.99 82.91 L53.1 83.06M53.1 83.06 L54.97 82.18M53.1 83.06 L55.01 83.86M65.09 82.91 L56.75 83.17M56.75 83.17 L59 82.08M56.75 83.17 L59.06 84.12M70.19 82.91 L65.8 83.13M85.49 82.91 L89.41 83.12M90.59 82.91 L98.76 83.17M98.76 83.17 L96.49 84.1M98.76 83.17 L96.55 82.1M95.69 82.91 L102.94 83.08M102.94 83.08 L100.93 83.92M102.94 83.08 L100.97 82.14M100.79 82.91 L104.12 82.98M54.9 88.01 L52.4 88.6M59.99 88.01 L53.97 89.84M53.97 89.84 L55.39 88.6M53.97 89.84 L55.84 90.08M65.09 88.01 L57.27 91.32M57.27 91.32 L59.01 89.46M57.27 91.32 L59.82 91.37M70.19 88.01 L65.23 91.47M65.23 91.47 L66.16 89.91M65.23 91.47 L67.01 91.13M75.29 88.01 L73.99 90.56M85.49 88.01 L90.04 91.39M90.04 91.39 L88.38 91.02M90.04 91.39 L89.21 89.91M90.59 88.01 L98.36 91.43M98.36 91.43 L95.81 91.44M98.36 91.43 L96.65 89.54M95.69 88.01 L102.06 90M102.06 90 L100.07 90.23M102.06 90 L100.56 88.68M100.79 88.01 L103.6 88.69M54.9 93.11 L53.39 93.8M59.99 93.11 L55.98 95.46M55.98 95.46 L56.79 94.33M55.98 95.46 L57.37 95.31M65.09 93.11 L59.11 97.99M59.11 97.99 L60.15 95.92M59.11 97.99 L61.35 97.39M70.19 93.11 L65.17 99.85M65.17 99.85 L65.72 97.39M65.17 99.85 L67.37 98.62M75.29 93.11 L73.45 100.09M73.45 100.09 L73.1 97.95M73.45 100.09 L74.81 98.4M80.39 93.11 L81.9 100.07M81.9 100.07 L80.64 98.35M81.9 100.07 L82.34 97.98M85.49 93.11 L90.26 99.94M90.26 99.94 L88.12 98.65M90.26 99.94 L89.79 97.49M90.59 93.11 L96.63 98.23M96.63 98.23 L94.35 97.57M96.63 98.23 L95.61 96.09M95.69 93.11 L99.98 95.69M99.98 95.69 L98.49 95.51M99.98 95.69 L99.13 94.46M100.79 93.11 L102.5 93.9M59.99 98.21 L58.11 99.84M65.09 98.21 L61.82 102.16M61.82 102.16 L62.24 100.68M61.82 102.16 L63.2 101.48M70.19 98.21 L66.93 104.69M66.93 104.69 L67.04 102.51M66.93 104.69 L68.62 103.31M75.29 98.21 L73.87 106.19M73.87 106.19 L73.28 103.83M73.87 106.19 L75.24 104.18M80.39 98.21 L81.57 106.26M81.57 106.26 L80.26 104.2M81.57 106.26 L82.23 103.91M85.49 98.21 L88.64 104.9M88.64 104.9 L86.96 103.45M88.64 104.9 L88.6 102.68M90.59 98.21 L93.95 102.43M93.95 102.43 L92.52 101.68M93.95 102.43 L93.55 100.86M95.69 98.21 L97.73 100.03M65.09 103.31 L63.95 105.14M70.19 103.31 L68.89 106.73M75.29 103.31 L74.67 107.91M74.67 107.91 L74.28 106.57M74.67 107.91 L75.41 106.73M80.39 103.31 L80.91 107.97M80.91 107.97 L80.2 106.76M80.91 107.97 L81.34 106.63M85.49 103.31 L86.77 106.88M90.59 103.31 L91.78 105.29M75.29 108.41 L75.14 109.81M80.39 108.41 L80.52 109.84" stroke="#fff" stroke-width="0.85" fill="none" stroke-opacity="0.8" stroke-linecap="round"/><path d="M70.19 47.21h0.6M75.29 47.21h0.6M80.39 47.21h0.6M85.49 47.21h0.6M90.59 47.21h0.6M95.69 47.21h0.6M100.79 47.21h0.6M105.89 47.21h0.6M110.99 47.21h0.6M59.99 52.31h0.6M65.09 52.31h0.6M70.19 52.31h0.6M75.29 52.31h0.6M80.39 52.31h0.6M85.49 52.31h0.6M90.59 52.31h0.6M95.69 52.31h0.6M100.79 52.31h0.6M105.89 52.31h0.6M110.99 52.31h0.6M116.09 52.31h0.6M121.19 52.31h0.6M49.8 57.41h0.6M54.9 57.41h0.6M59.99 57.41h0.6M65.09 57.41h0.6M90.59 57.41h0.6M95.69 57.41h0.6M100.79 57.41h0.6M105.89 57.41h0.6M110.99 57.41h0.6M116.09 57.41h0.6M121.19 57.41h0.6M126.29 57.41h0.6M44.7 62.51h0.6M49.8 62.51h0.6M54.9 62.51h0.6M59.99 62.51h0.6M95.69 62.51h0.6M100.79 62.51h0.6M105.89 62.51h0.6M110.99 62.51h0.6M121.19 62.51h0.6M126.29 62.51h0.6M44.7 67.61h0.6M49.8 67.61h0.6M54.9 67.61h0.6M100.79 67.61h0.6M105.89 67.61h0.6M126.29 67.61h0.6M39.59 72.71h0.6M44.7 72.71h0.6M49.8 72.71h0.6M105.89 72.71h0.6M126.29 72.71h0.6M39.59 77.81h0.6M44.7 77.81h0.6M49.8 77.81h0.6M75.29 77.81h0.6M80.39 77.81h0.6M105.89 77.81h0.6M126.29 77.81h0.6M39.59 82.91h0.6M44.7 82.91h0.6M49.8 82.91h0.6M75.29 82.91h0.6M80.39 82.91h0.6M105.89 82.91h0.6M110.99 82.91h0.6M116.09 82.91h0.6M121.19 82.91h0.6M126.29 82.91h0.6M39.59 88.01h0.6M44.7 88.01h0.6M49.8 88.01h0.6M80.39 88.01h0.6M105.89 88.01h0.6M110.99 88.01h0.6M116.09 88.01h0.6M121.19 88.01h0.6M126.29 88.01h0.6M39.59 93.11h0.6M44.7 93.11h0.6M49.8 93.11h0.6M105.89 93.11h0.6M110.99 93.11h0.6M116.09 93.11h0.6M121.19 93.11h0.6M39.59 98.21h0.6M44.7 98.21h0.6M49.8 98.21h0.6M54.9 98.21h0.6M100.79 98.21h0.6M105.89 98.21h0.6M110.99 98.21h0.6M116.09 98.21h0.6M44.7 103.31h0.6M49.8 103.31h0.6M54.9 103.31h0.6M59.99 103.31h0.6M95.69 103.31h0.6M100.79 103.31h0.6M105.89 103.31h0.6M110.99 103.31h0.6M49.8 108.41h0.6M54.9 108.41h0.6M59.99 108.41h0.6M65.09 108.41h0.6M70.19 108.41h0.6M85.49 108.41h0.6M90.59 108.41h0.6M95.69 108.41h0.6M100.79 108.41h0.6M105.89 108.41h0.6M54.9 113.51h0.6M59.99 113.51h0.6M65.09 113.51h0.6M70.19 113.51h0.6M75.29 113.51h0.6M80.39 113.51h0.6M85.49 113.51h0.6M90.59 113.51h0.6M95.69 113.51h0.6M70.19 118.61h0.6M75.29 118.61h0.6" stroke="#aab" stroke-width="0.9" stroke-opacity="0.4" stroke-linecap="round" fill="none"/><path d="M126.35 66.01 L126.99 68.67 L127.3 71.42 L127.28 74.24 L126.93 77.12 L126.26 80.03 L125.27 82.97 L123.97 85.9 L122.36 88.81 L120.48 91.68 L118.31 94.48 L115.9 97.2 L113.24 99.81 L110.37 102.28 L107.29 104.61 L104.05 106.77 L100.65 108.73 L97.12 110.48 L93.49 112.01 L89.79 113.28 L86.04 114.3 L82.27 115.05 L78.5 115.52 L74.77 115.7 L71.1 115.59 L67.52 115.18 L64.05 114.48 L60.73 113.49 L57.57 112.22 L54.6 110.68 L51.84 108.87 L49.32 106.83 L47.05 104.56 L45.06 102.09 L43.36 99.43 L41.96 96.61 L40.87 93.67 L40.12 90.62 L39.69 87.49 L39.6 84.31 L39.85 81.11 L40.44 77.91 L41.36 74.75 L42.61 71.66 L44.18 68.64 L46.06 65.74 L48.23 62.97 L50.68 60.36 L53.39 57.92 L56.33 55.66 L59.49 53.61 L62.83 51.78 L66.34 50.17 L69.98 48.8 L73.73 47.67 L77.55 46.78 L81.42 46.14 L85.3 45.75 L89.17 45.6 L92.98 45.7 L96.72 46.04 L100.36 46.61 L103.86 47.41 L107.19 48.43 L110.34 49.67 L113.28 51.11 L115.98 52.75 L118.44 54.57 L120.62 56.56 L122.51 58.71 L124.1 61.01 L125.39 63.45Z" fill="none" stroke="#00bb2c" stroke-width="1.05"/></g>
<g transform="translate(15 209)"><rect x="-0.1" y="0" width="165.4" height="164.6" fill="#000"/><g filter="url(#jet)"><rect x="1.45" y="1.55" width="162.75" height="161.95" fill="#000"/><path d="M129.91 64.44 L130.57 67.25 L130.9 70.15 L130.88 73.13 L130.51 76.17 L129.81 79.25 L128.77 82.35 L127.41 85.44 L125.73 88.51 L123.75 91.54 L121.49 94.5 L118.96 97.36 L116.18 100.12 L113.17 102.73 L109.96 105.19 L106.56 107.47 L103 109.54 L99.31 111.39 L95.51 113 L91.64 114.34 L87.71 115.42 L83.76 116.21 L79.82 116.7 L75.92 116.89 L72.07 116.77 L68.32 116.34 L64.7 115.61 L61.21 114.56 L57.91 113.22 L54.8 111.59 L51.91 109.69 L49.28 107.53 L46.9 105.14 L44.82 102.52 L43.04 99.72 L41.57 96.75 L40.44 93.64 L39.64 90.42 L39.2 87.12 L39.1 83.76 L39.36 80.38 L39.98 77.01 L40.94 73.68 L42.25 70.41 L43.9 67.23 L45.86 64.17 L48.14 61.24 L50.7 58.48 L53.53 55.91 L56.61 53.53 L59.92 51.36 L63.42 49.43 L67.09 47.73 L70.9 46.28 L74.83 45.09 L78.83 44.15 L82.88 43.47 L86.94 43.06 L90.98 42.91 L94.98 43.01 L98.89 43.37 L102.7 43.97 L106.36 44.82 L109.85 45.9 L113.15 47.2 L116.22 48.72 L119.05 50.45 L121.62 52.37 L123.9 54.47 L125.88 56.75 L127.55 59.17 L128.9 61.75Z" fill="#fff" fill-opacity="0.05" filter="url(#b2)"/><g clip-path="url(#ce3)"><path d="M68.73 67.15 A16.6 16.6 0 1 1 77.15 97.04 A20.2 20.2 0 0 0 68.73 67.15Z" fill="#fff" fill-opacity="0.9" filter="url(#b3)"/><path d="M86.33 73.54 A10.4 10.4 0 0 1 86.33 87.46" stroke="#fff" stroke-opacity="0.75" stroke-width="3.6" stroke-linecap="round" fill="none" filter="url(#b15)"/><ellipse cx="74" cy="82" rx="26" ry="31.2" fill="url(#gd2)"/></g></g><path d="M63.5 51.61 L62.89 50.21M68.59 51.61 L68.05 49.51M73.69 51.61 L73.46 49.04M78.8 51.61 L78.99 49.01M83.89 51.61 L84.42 49.45M88.99 51.61 L89.6 50.14M58.4 56.71 L57.06 54.85M63.5 56.71 L61.77 53.38M68.59 56.71 L67.06 51.84M67.06 51.84 L68.08 52.99M67.06 51.84 L66.89 53.36M73.69 56.71 L73.04 50.83M73.04 50.83 L73.94 52.36M73.04 50.83 L72.5 52.52M78.8 56.71 L79.34 50.78M79.34 50.78 L79.91 52.47M79.34 50.78 L78.46 52.34M83.89 56.71 L85.37 51.71M85.37 51.71 L85.58 53.26M85.37 51.71 L84.35 52.9M88.99 56.71 L90.73 53.22M94.09 56.71 L95.49 54.72M99.19 56.71 L100.01 55.8M53.3 61.81 L51.45 60.22M58.4 61.81 L55.29 58.38M55.29 58.38 L56.56 58.94M55.29 58.38 L55.73 59.7M63.5 61.81 L59.66 55.91M59.66 55.91 L61.43 57.05M59.66 55.91 L59.99 57.99M68.59 61.81 L65.3 53.47M65.3 53.47 L67.16 55.29M65.3 53.47 L65.19 56.07M73.69 61.81 L72.31 51.94M72.31 51.94 L73.69 54.14M72.31 51.94 L71.59 54.44M78.8 61.81 L79.94 51.86M79.94 51.86 L80.72 54.34M79.94 51.86 L78.61 54.1M83.89 61.81 L87.05 53.27M87.05 53.27 L87.23 55.86M87.05 53.27 L85.24 55.13M88.99 61.81 L92.85 55.65M92.85 55.65 L92.54 57.81M92.85 55.65 L91.04 56.86M94.09 61.81 L97.31 58.16M97.31 58.16 L96.87 59.55M97.31 58.16 L95.98 58.76M99.19 61.81 L101.16 60.07M48.2 66.91 L46.56 66.05M53.3 66.91 L49.76 64.64M58.4 66.91 L52.7 62.22M52.7 62.22 L54.83 62.81M52.7 62.22 L53.69 64.2M63.5 66.91 L56.74 59.18M56.74 59.18 L59.1 60.27M56.74 59.18 L57.51 61.66M68.59 66.91 L63.01 56.39M63.01 56.39 L65.06 57.99M63.01 56.39 L63.19 58.98M73.69 66.91 L71.4 54.72M71.4 54.72 L72.88 56.86M71.4 54.72 L70.8 57.25M78.8 66.91 L80.69 54.64M80.69 54.64 L81.37 57.14M80.69 54.64 L79.28 56.82M83.89 66.91 L89.23 56.16M89.23 56.16 L89.13 58.76M89.23 56.16 L87.23 57.82M88.99 66.91 L95.74 58.87M95.74 58.87 L95.03 61.37M95.74 58.87 L93.4 60.01M94.09 66.91 L99.97 61.93M99.97 61.93 L98.97 64.02M99.97 61.93 L97.75 62.58M99.19 66.91 L102.95 64.44M104.3 66.91 L106.08 65.95M48.2 72.01 L45.57 71.1M53.3 72.01 L47.8 69.69M47.8 69.69 L49.59 69.65M47.8 69.69 L49.02 71M58.4 72.01 L49.89 67.41M49.89 67.41 L52.48 67.6M49.89 67.41 L51.47 69.47M63.5 72.01 L53.81 64.72M53.81 64.72 L56.35 65.3M53.81 64.72 L55.07 66.99M68.59 72.01 L60.84 62.4M60.84 62.4 L63.15 63.58M60.84 62.4 L61.5 64.91M73.69 72.01 L70.54 60.98M70.54 60.98 L72.21 62.97M70.54 60.98 L70.17 63.56M78.8 72.01 L81.4 60.91M81.4 60.91 L81.89 63.46M81.4 60.91 L79.82 62.98M83.89 72.01 L91.3 62.21M91.3 62.21 L90.71 64.74M91.3 62.21 L89.02 63.46M88.99 72.01 L98.63 64.46M98.63 64.46 L97.42 66.76M98.63 64.46 L96.11 65.09M94.09 72.01 L102.84 67.14M102.84 67.14 L101.28 69.22M102.84 67.14 L100.25 67.37M99.19 72.01 L105.01 69.5M105.01 69.5 L103.73 70.9M105.01 69.5 L103.11 69.47M104.3 72.01 L107.16 71M43.1 77.11 L41.86 76.93M48.2 77.11 L44.76 76.54M53.3 77.11 L46.25 75.68M46.25 75.68 L48.36 75.21M46.25 75.68 L48.01 76.94M58.4 77.11 L47.78 74.36M47.78 74.36 L50.34 73.93M47.78 74.36 L49.81 75.98M63.5 77.11 L51.74 72.87M51.74 72.87 L54.33 72.68M51.74 72.87 L53.61 74.67M68.59 77.11 L59.22 71.54M59.22 71.54 L61.8 71.84M59.22 71.54 L60.72 73.67M73.69 77.11 L70.23 71.32M70.23 71.32 L71.89 72.48M70.23 71.32 L70.47 73.33M78.8 77.11 L81.43 71.71M81.43 71.71 L81.37 73.51M81.43 71.71 L80.05 72.87M83.89 77.11 L92.87 71.42M92.87 71.42 L91.43 73.58M92.87 71.42 L90.29 71.79M88.99 77.11 L100.67 72.72M100.67 72.72 L98.82 74.55M100.67 72.72 L98.07 72.57M94.09 77.11 L104.97 74.21M104.97 74.21 L102.95 75.84M104.97 74.21 L102.4 73.8M99.19 77.11 L106.63 75.57M106.63 75.57 L104.78 76.9M106.63 75.57 L104.41 75.08M104.3 77.11 L108.04 76.48M109.39 77.11 L110.78 76.91M43.1 82.21 L41.75 82.22M48.2 82.21 L44.47 82.26M53.3 82.21 L45.73 82.34M45.73 82.34 L47.78 81.38M45.73 82.34 L47.82 83.23M58.4 82.21 L47.09 82.46M47.09 82.46 L49.44 81.35M47.09 82.46 L49.48 83.47M63.5 82.21 L51.07 82.6M51.07 82.6 L53.41 81.46M51.07 82.6 L53.48 83.58M68.59 82.21 L58.57 82.73M58.57 82.73 L60.88 81.54M58.57 82.73 L60.99 83.66M73.69 82.21 L72.37 82.4M83.89 82.21 L93.54 82.74M93.54 82.74 L91.12 83.67M93.54 82.74 L91.23 81.55M88.99 82.21 L101.32 82.61M101.32 82.61 L98.92 83.59M101.32 82.61 L98.99 81.47M94.09 82.21 L105.67 82.48M105.67 82.48 L103.27 83.48M105.67 82.48 L103.32 81.36M99.19 82.21 L107.18 82.35M107.18 82.35 L104.98 83.29M107.18 82.35 L105.01 81.34M104.3 82.21 L108.35 82.27M109.39 82.21 L110.91 82.23M43.1 87.31 L41.9 87.51M48.2 87.31 L44.86 87.96M53.3 87.31 L46.44 88.93M46.44 88.93 L48.12 87.65M46.44 88.93 L48.52 89.33M58.4 87.31 L48.03 90.46M48.03 90.46 L50 88.75M48.03 90.46 L50.61 90.78M63.5 87.31 L51.99 92.18M51.99 92.18 L53.76 90.28M51.99 92.18 L54.59 92.23M68.59 87.31 L59.43 93.69M59.43 93.69 L60.77 91.47M59.43 93.69 L61.99 93.2M73.69 87.31 L69.74 95.07M69.74 95.07 L69.88 92.47M69.74 95.07 L71.77 93.43M78.8 87.31 L82.04 95.1M82.04 95.1 L80.2 93.36M82.04 95.1 L82.1 92.57M83.89 87.31 L92.65 93.83M92.65 93.83 L90.12 93.26M92.65 93.83 L91.38 91.56M88.99 87.31 L100.42 92.35M100.42 92.35 L97.82 92.36M100.42 92.35 L98.68 90.42M94.09 87.31 L104.71 90.63M104.71 90.63 L102.13 90.93M104.71 90.63 L102.76 88.91M99.19 87.31 L106.43 89.06M106.43 89.06 L104.24 89.47M106.43 89.06 L104.67 87.7M104.3 87.31 L107.93 88.03M109.39 87.31 L110.74 87.53M48.2 92.41 L45.73 93.33M53.3 92.41 L48.11 94.78M48.11 94.78 L49.24 93.5M48.11 94.78 L49.82 94.76M58.4 92.41 L50.31 97.14M50.31 97.14 L51.83 95.03M50.31 97.14 L52.9 96.86M63.5 92.41 L54.24 99.96M54.24 99.96 L55.41 97.63M54.24 99.96 L56.75 99.28M68.59 92.41 L61.15 102.4M61.15 102.4 L61.72 99.86M61.15 102.4 L63.42 101.13M73.69 92.41 L70.67 103.85M70.67 103.85 L70.25 101.29M70.67 103.85 L72.3 101.83M78.8 92.41 L81.29 103.93M81.29 103.93 L79.75 101.83M81.29 103.93 L81.82 101.39M83.89 92.41 L91 102.59M91 102.59 L88.77 101.25M91 102.59 L90.51 100.04M88.99 92.41 L98.21 100.23M98.21 100.23 L95.71 99.5M98.21 100.23 L97.08 97.88M94.09 92.41 L102.4 97.42M102.4 97.42 L99.82 97.1M102.4 97.42 L100.92 95.28M99.19 92.41 L104.69 94.98M104.69 94.98 L102.87 94.95M104.69 94.98 L103.5 93.6M104.3 92.41 L106.99 93.43M48.2 97.51 L46.71 98.33M53.3 97.51 L50.06 99.7M58.4 97.51 L53.15 102.06M53.15 102.06 L54.03 100.17M53.15 102.06 L55.14 101.45M63.5 97.51 L57.24 105.07M57.24 105.07 L57.93 102.56M57.24 105.07 L59.57 103.92M68.59 97.51 L63.39 107.86M63.39 107.86 L63.51 105.26M63.39 107.86 L65.4 106.21M73.69 97.51 L71.55 109.54M71.55 109.54 L70.92 107.01M71.55 109.54 L73.01 107.39M78.8 97.51 L80.56 109.62M80.56 109.62 L79.17 107.43M80.56 109.62 L81.27 107.12M83.89 97.51 L88.87 108.09M88.87 108.09 L86.9 106.39M88.87 108.09 L88.82 105.49M88.99 97.51 L95.25 105.37M95.25 105.37 L92.94 104.18M95.25 105.37 L94.6 102.86M94.09 97.51 L99.51 102.34M99.51 102.34 L97.43 101.68M99.51 102.34 L98.62 100.35M99.19 97.51 L102.63 99.89M104.3 97.51 L105.92 98.43M53.3 102.61 L51.67 104.07M58.4 102.61 L55.64 105.77M63.5 102.61 L60.06 108.1M60.06 108.1 L60.33 106.18M60.06 108.1 L61.67 107.02M68.59 102.61 L65.63 110.41M65.63 110.41 L65.49 107.91M65.63 110.41 L67.4 108.64M73.69 102.61 L72.44 111.88M72.44 111.88 L71.71 109.39M72.44 111.88 L73.81 109.67M78.8 102.61 L79.83 111.96M79.83 111.96 L78.51 109.71M79.83 111.96 L80.62 109.48M83.89 102.61 L86.74 110.61M86.74 110.61 L84.98 108.77M86.74 110.61 L86.94 108.07M88.99 102.61 L92.44 108.35M92.44 108.35 L90.8 107.2M92.44 108.35 L92.2 106.35M94.09 102.61 L96.95 105.99M99.19 102.61 L100.93 104.2M58.4 107.71 L57.25 109.34M63.5 107.71 L62.01 110.66M68.59 107.71 L67.27 112.05M67.27 112.05 L67.1 110.7M67.27 112.05 L68.16 111.02M73.69 107.71 L73.13 112.96M73.13 112.96 L72.64 111.45M73.13 112.96 L73.92 111.59M78.8 107.71 L79.26 113.01M79.26 113.01 L78.49 111.62M79.26 113.01 L79.78 111.5M83.89 107.71 L85.17 112.17M85.17 112.17 L84.27 111.1M85.17 112.17 L85.37 110.79M88.99 107.71 L90.49 110.81M94.09 107.71 L95.29 109.46M63.5 112.81 L63 113.99M68.59 112.81 L68.14 114.59M73.69 112.81 L73.5 115M78.8 112.81 L78.96 115.02M83.89 112.81 L84.33 114.64M88.99 112.81 L89.5 114.05" stroke="#fff" stroke-width="0.55" fill="none" stroke-opacity="0.55" stroke-linecap="round"/><path d="M68.59 46.51h0.6M73.69 46.51h0.6M78.8 46.51h0.6M83.89 46.51h0.6M88.99 46.51h0.6M94.09 46.51h0.6M99.19 46.51h0.6M104.3 46.51h0.6M109.39 46.51h0.6M58.4 51.61h0.6M94.09 51.61h0.6M99.19 51.61h0.6M104.3 51.61h0.6M109.39 51.61h0.6M114.49 51.61h0.6M119.59 51.61h0.6M53.3 56.71h0.6M104.3 56.71h0.6M109.39 56.71h0.6M114.49 56.71h0.6M119.59 56.71h0.6M124.69 56.71h0.6M48.2 61.81h0.6M104.3 61.81h0.6M109.39 61.81h0.6M114.49 61.81h0.6M119.59 61.81h0.6M124.69 61.81h0.6M129.79 61.81h0.6M43.1 66.91h0.6M109.39 66.91h0.6M114.49 66.91h0.6M119.59 66.91h0.6M124.69 66.91h0.6M129.79 66.91h0.6M43.1 72.01h0.6M109.39 72.01h0.6M114.49 72.01h0.6M119.59 72.01h0.6M124.69 72.01h0.6M129.79 72.01h0.6M114.49 77.11h0.6M119.59 77.11h0.6M124.69 77.11h0.6M129.79 77.11h0.6M38 82.21h0.6M78.8 82.21h0.6M114.49 82.21h0.6M119.59 82.21h0.6M124.69 82.21h0.6M129.79 82.21h0.6M38 87.31h0.6M114.49 87.31h0.6M119.59 87.31h0.6M124.69 87.31h0.6M43.1 92.41h0.6M109.39 92.41h0.6M114.49 92.41h0.6M119.59 92.41h0.6M43.1 97.51h0.6M109.39 97.51h0.6M114.49 97.51h0.6M119.59 97.51h0.6M48.2 102.61h0.6M104.3 102.61h0.6M109.39 102.61h0.6M114.49 102.61h0.6M48.2 107.71h0.6M53.3 107.71h0.6M99.19 107.71h0.6M104.3 107.71h0.6M58.4 112.81h0.6M94.09 112.81h0.6" stroke="#aab" stroke-width="0.9" stroke-opacity="0.4" stroke-linecap="round" fill="none"/><path d="M127.36 65.32 L127.99 67.97 L128.3 70.71 L128.28 73.52 L127.94 76.38 L127.27 79.29 L126.29 82.21 L125.01 85.13 L123.43 88.03 L121.56 90.88 L119.43 93.67 L117.04 96.38 L114.42 98.97 L111.58 101.44 L108.55 103.76 L105.34 105.91 L101.98 107.86 L98.5 109.61 L94.92 111.12 L91.26 112.4 L87.56 113.41 L83.83 114.16 L80.12 114.62 L76.43 114.8 L72.81 114.69 L69.27 114.28 L65.85 113.58 L62.56 112.6 L59.44 111.33 L56.51 109.8 L53.79 108 L51.3 105.97 L49.06 103.71 L47.09 101.24 L45.41 98.6 L44.03 95.8 L42.96 92.86 L42.21 89.82 L41.79 86.71 L41.7 83.54 L41.95 80.36 L42.53 77.18 L43.44 74.03 L44.67 70.95 L46.22 67.95 L48.08 65.06 L50.22 62.3 L52.64 59.7 L55.31 57.26 L58.22 55.02 L61.34 52.98 L64.64 51.15 L68.11 49.55 L71.7 48.19 L75.4 47.06 L79.18 46.17 L83 45.54 L86.83 45.15 L90.65 45 L94.41 45.1 L98.11 45.43 L101.69 46 L105.15 46.8 L108.44 47.82 L111.55 49.05 L114.46 50.49 L117.13 52.12 L119.55 53.93 L121.7 55.91 L123.57 58.06 L125.14 60.35 L126.41 62.77Z" fill="none" stroke="#00bb2c" stroke-width="1.05"/></g>
<g transform="translate(215 209)"><rect x="0.15" y="0" width="165.35" height="164.6" fill="#000"/><g filter="url(#jet)"><rect x="1.7" y="1.55" width="162.7" height="161.95" fill="#000"/><path d="M131.03 64.83 L131.7 67.65 L132.03 70.56 L132.01 73.55 L131.64 76.61 L130.93 79.7 L129.88 82.81 L128.5 85.92 L126.8 89 L124.8 92.04 L122.51 95.01 L119.94 97.89 L117.13 100.65 L114.08 103.28 L110.82 105.75 L107.38 108.03 L103.78 110.12 L100.04 111.97 L96.2 113.59 L92.27 114.94 L88.3 116.02 L84.3 116.82 L80.31 117.31 L76.35 117.5 L72.46 117.38 L68.66 116.95 L64.99 116.21 L61.46 115.16 L58.11 113.81 L54.97 112.18 L52.04 110.27 L49.37 108.1 L46.97 105.69 L44.86 103.07 L43.05 100.26 L41.57 97.27 L40.42 94.15 L39.62 90.91 L39.16 87.6 L39.07 84.23 L39.33 80.83 L39.96 77.45 L40.93 74.1 L42.26 70.82 L43.92 67.62 L45.92 64.55 L48.22 61.61 L50.81 58.84 L53.68 56.25 L56.8 53.86 L60.15 51.69 L63.7 49.75 L67.41 48.04 L71.28 46.59 L75.25 45.39 L79.3 44.45 L83.4 43.77 L87.51 43.35 L91.61 43.2 L95.66 43.3 L99.62 43.66 L103.47 44.27 L107.18 45.12 L110.72 46.2 L114.05 47.51 L117.17 49.04 L120.04 50.77 L122.64 52.7 L124.95 54.81 L126.95 57.1 L128.64 59.54 L130 62.12Z" fill="#fff" fill-opacity="0.05" filter="url(#b2)"/><g clip-path="url(#ce4)"><g filter="url(#b25)" opacity="0.9"><path d="M86.04 64.81 A20 20 0 0 1 97.02 92.68" stroke="#fff" stroke-width="12.5" fill="none"/><path d="M81.71 63.15 A20.6 20.6 0 0 1 94.75 97.11" stroke="#fff" stroke-width="6.5" fill="none" stroke-linecap="round"/></g><path d="M94.95 69.41 A21.2 21.2 0 0 1 99.77 88.73" stroke="#fff" stroke-opacity="0.75" stroke-width="3.4" stroke-linecap="round" fill="none" filter="url(#b15)"/><ellipse cx="83" cy="82" rx="28.6" ry="33.8" fill="url(#ge2)"/></g></g><path d="M79.6 46.71 L79.27 45.24M84.7 46.71 L84.56 44.96M89.8 46.71 L89.91 44.94M94.9 46.71 L95.21 45.2M69.4 51.81 L68.45 50.24M74.5 51.81 L73.38 49.23M79.6 51.81 L78.66 48.24M84.7 51.81 L84.31 47.61M89.8 51.81 L90.12 47.58M94.9 51.81 L95.79 48.16M100 51.81 L101.11 49.12M105.1 51.81 L106.06 50.15M64.3 56.91 L62.79 55.28M69.4 56.91 L67.15 53.79M74.5 56.91 L71.93 51.96M71.93 51.96 L73.24 53M71.93 51.96 L72.03 53.63M79.6 56.91 L77.5 50.25M77.5 50.25 L78.89 51.82M77.5 50.25 L77.26 52.33M84.7 56.91 L83.83 49.2M83.83 49.2 L85.01 51.21M83.83 49.2 L83.13 51.42M89.8 56.91 L90.5 49.15M90.5 49.15 L91.26 51.36M90.5 49.15 L89.36 51.19M94.9 56.91 L96.9 50.11M96.9 50.11 L97.18 52.22M96.9 50.11 L95.52 51.73M100 56.91 L102.55 51.78M102.55 51.78 L102.48 53.49M102.55 51.78 L101.22 52.87M105.1 56.91 L107.4 53.62M110.2 56.91 L111.78 55.15M59.2 62.01 L57.53 60.83M64.3 62.01 L61.24 59.38M69.4 62.01 L65.04 57.2M65.04 57.2 L66.82 57.98M65.04 57.2 L65.64 59.05M74.5 62.01 L69.72 54.66M69.72 54.66 L71.9 56.07M69.72 54.66 L70.12 57.23M79.6 62.01 L75.81 52.44M75.81 52.44 L77.67 54.26M75.81 52.44 L75.7 55.04M84.7 62.01 L83.17 51.14M83.17 51.14 L84.55 53.35M83.17 51.14 L82.45 53.64M89.8 62.01 L91.05 51.08M91.05 51.08 L91.83 53.56M91.05 51.08 L89.73 53.31M94.9 62.01 L98.5 52.26M98.5 52.26 L98.67 54.86M98.5 52.26 L96.68 54.12M100 62.01 L104.74 54.41M104.74 54.41 L104.38 56.99M104.74 54.41 L102.58 55.87M105.1 62.01 L109.55 56.95M109.55 56.95 L108.95 58.88M109.55 56.95 L107.71 57.79M110.2 62.01 L113.39 59.19M115.3 62.01 L117.08 60.72M54.1 67.11 L52.83 66.54M59.2 67.11 L56.31 65.59M64.3 67.11 L59.2 63.84M59.2 63.84 L60.99 64.11M59.2 63.84 L60.19 65.36M69.4 67.11 L62.41 61.36M62.41 61.36 L64.92 62.05M62.41 61.36 L63.57 63.69M74.5 67.11 L67.15 58.7M67.15 58.7 L69.51 59.79M67.15 58.7 L67.92 61.19M79.6 67.11 L73.99 56.55M73.99 56.55 L76.04 58.15M73.99 56.55 L74.17 59.14M84.7 67.11 L82.48 55.36M82.48 55.36 L83.96 57.5M82.48 55.36 L81.88 57.89M89.8 67.11 L91.61 55.3M91.61 55.3 L92.3 57.81M91.61 55.3 L90.21 57.49M94.9 67.11 L100.22 56.38M100.22 56.38 L100.12 58.98M100.22 56.38 L98.22 58.04M100 67.11 L107.26 58.45M107.26 58.45 L106.54 60.95M107.26 58.45 L104.92 59.59M105.1 67.11 L112.2 61.09M112.2 61.09 L111.08 63.44M112.2 61.09 L109.71 61.82M110.2 67.11 L115.52 63.61M115.52 63.61 L114.49 65.22M115.52 63.61 L113.63 63.92M115.3 67.11 L118.38 65.45M120.4 67.11 L121.78 66.48M54.1 72.21 L52.2 71.65M59.2 72.21 L54.99 70.75M64.3 72.21 L57.11 69.17M57.11 69.17 L59.45 69.13M57.11 69.17 L58.7 70.88M69.4 72.21 L59.91 67.08M59.91 67.08 L62.51 67.28M59.91 67.08 L61.5 69.14M74.5 72.21 L64.91 64.99M64.91 64.99 L67.45 65.57M64.91 64.99 L66.17 67.27M79.6 72.21 L72.49 63.41M72.49 63.41 L74.81 64.59M72.49 63.41 L73.16 65.92M84.7 72.21 L81.91 62.5M81.91 62.5 L83.59 64.49M81.91 62.5 L81.55 65.07M89.8 72.21 L92.08 62.45M92.08 62.45 L92.57 65M92.08 62.45 L90.51 64.52M94.9 72.21 L101.63 63.29M101.63 63.29 L101.05 65.82M101.63 63.29 L99.35 64.54M100 72.21 L109.44 64.81M109.44 64.81 L108.22 67.11M109.44 64.81 L106.92 65.44M105.1 72.21 L114.7 66.86M114.7 66.86 L113.15 68.94M114.7 66.86 L112.11 67.09M110.2 72.21 L117.67 68.98M117.67 68.98 L116.02 70.78M117.67 68.98 L115.23 68.95M115.3 72.21 L119.78 70.63M119.78 70.63 L118.74 71.61M119.78 70.63 L118.36 70.51M120.4 72.21 L122.47 71.59M54.1 77.31 L51.71 76.97M59.2 77.31 L53.99 76.45M53.99 76.45 L55.52 76.04M53.99 76.45 L55.31 77.32M64.3 77.31 L55.59 75.55M55.59 75.55 L58.12 74.98M55.59 75.55 L57.7 77.06M69.4 77.31 L58.2 74.41M58.2 74.41 L60.77 73.98M58.2 74.41 L60.24 76.03M74.5 77.31 L63.48 73.33M63.48 73.33 L66.07 73.14M63.48 73.33 L65.35 75.14M79.6 77.31 L71.45 72.47M71.45 72.47 L74.03 72.77M71.45 72.47 L72.95 74.6M84.7 77.31 L81.79 72.45M81.79 72.45 L83.18 73.43M81.79 72.45 L81.99 74.14M89.8 77.31 L92 72.79M92 72.79 L91.95 74.3M92 72.79 L90.85 73.76M94.9 77.31 L102.65 72.39M102.65 72.39 L101.21 74.56M102.65 72.39 L100.08 72.77M100 77.31 L110.83 73.24M110.83 73.24 L108.98 75.07M110.83 73.24 L108.24 73.08M105.1 77.31 L116.4 74.29M116.4 74.29 L114.38 75.93M116.4 74.29 L113.84 73.88M110.2 77.31 L119.23 75.44M119.23 75.44 L117.12 76.96M119.23 75.44 L116.69 74.88M115.3 77.31 L120.84 76.37M120.84 76.37 L119.44 77.31M120.84 76.37 L119.21 75.95M120.4 77.31 L123.01 76.94M54.1 82.41 L51.54 82.44M59.2 82.41 L53.66 82.49M53.66 82.49 L55.16 81.79M53.66 82.49 L55.18 83.14M64.3 82.41 L55.09 82.57M55.09 82.57 L57.45 81.47M55.09 82.57 L57.48 83.59M69.4 82.41 L57.67 82.67M57.67 82.67 L60.02 81.56M57.67 82.67 L60.06 83.68M74.5 82.41 L63.04 82.77M63.04 82.77 L65.37 81.63M63.04 82.77 L65.44 83.75M79.6 82.41 L71.01 82.85M71.01 82.85 L73.31 81.68M71.01 82.85 L73.42 83.78M94.9 82.41 L103.12 82.86M103.12 82.86 L100.81 83.74M103.12 82.86 L100.92 81.73M100 82.41 L111.26 82.78M111.26 82.78 L108.86 83.76M111.26 82.78 L108.92 81.64M105.1 82.41 L116.94 82.68M116.94 82.68 L114.54 83.69M116.94 82.68 L114.59 81.57M110.2 82.41 L119.74 82.58M119.74 82.58 L117.35 83.6M119.74 82.58 L117.38 81.48M115.3 82.41 L121.19 82.49M121.19 82.49 L119.57 83.19M121.19 82.49 L119.59 81.75M120.4 82.41 L123.19 82.44M54.1 87.51 L51.77 87.89M59.2 87.51 L54.11 88.5M54.11 88.5 L55.38 87.6M54.11 88.5 L55.63 88.85M64.3 87.51 L55.77 89.53M55.77 89.53 L57.83 87.95M55.77 89.53 L58.32 90.02M69.4 87.51 L58.4 90.85M58.4 90.85 L60.37 89.15M58.4 90.85 L60.98 91.17M74.5 87.51 L63.64 92.1M63.64 92.1 L65.41 90.2M63.64 92.1 L66.24 92.15M79.6 87.51 L71.59 93.09M71.59 93.09 L72.93 90.86M71.59 93.09 L74.14 92.6M84.7 87.51 L81.37 94.05M81.37 94.05 L81.48 91.85M81.37 94.05 L83.08 92.66M89.8 87.51 L92.53 94.06M92.53 94.06 L90.98 92.6M92.53 94.06 L92.58 91.93M94.9 87.51 L102.51 93.18M102.51 93.18 L99.97 92.61M102.51 93.18 L101.24 90.91M100 87.51 L110.67 92.21M110.67 92.21 L108.07 92.23M110.67 92.21 L108.93 90.29M105.1 87.51 L116.21 90.99M116.21 90.99 L113.62 91.29M116.21 90.99 L114.26 89.26M110.2 87.51 L119.04 89.66M119.04 89.66 L116.49 90.13M119.04 89.66 L116.99 88.07M115.3 87.51 L120.71 88.58M120.71 88.58 L119.1 88.95M120.71 88.58 L119.36 87.62M120.4 87.51 L122.94 87.93M54.1 92.61 L52.3 93.18M59.2 92.61 L55.19 94.11M64.3 92.61 L57.42 95.75M57.42 95.75 L58.92 94.05M57.42 95.75 L59.69 95.73M69.4 92.61 L60.27 97.95M60.27 97.95 L61.79 95.84M60.27 97.95 L62.86 97.67M74.5 92.61 L65.23 100.17M65.23 100.17 L66.39 97.85M65.23 100.17 L67.73 99.49M79.6 92.61 L72.7 101.86M72.7 101.86 L73.27 99.32M72.7 101.86 L74.97 100.59M84.7 92.61 L82 102.81M82 102.81 L81.58 100.24M82 102.81 L83.63 100.78M89.8 92.61 L92.01 102.85M92.01 102.85 L90.47 100.76M92.01 102.85 L92.55 100.31M94.9 92.61 L101.44 101.99M101.44 101.99 L99.21 100.65M101.44 101.99 L100.95 99.44M100 92.61 L109.14 100.37M109.14 100.37 L106.64 99.64M109.14 100.37 L108.01 98.02M105.1 92.61 L114.34 98.18M114.34 98.18 L111.76 97.87M114.34 98.18 L112.86 96.05M110.2 92.61 L117.35 95.95M117.35 95.95 L114.98 95.91M117.35 95.95 L115.8 94.16M115.3 92.61 L119.57 94.24M119.57 94.24 L118.2 94.31M119.57 94.24 L118.6 93.27M120.4 92.61 L122.36 93.24M54.1 97.71 L52.93 98.26M59.2 97.71 L56.52 99.19M64.3 97.71 L59.54 100.93M59.54 100.93 L60.45 99.46M59.54 100.93 L61.24 100.63M69.4 97.71 L62.84 103.4M62.84 103.4 L63.94 101.04M62.84 103.4 L65.33 102.64M74.5 97.71 L67.56 106.08M67.56 106.08 L68.26 103.58M67.56 106.08 L69.89 104.93M79.6 97.71 L74.27 108.29M74.27 108.29 L74.39 105.69M74.27 108.29 L76.28 106.65M84.7 97.71 L82.59 109.52M82.59 109.52 L81.96 107M82.59 109.52 L84.05 107.37M89.8 97.71 L91.53 109.58M91.53 109.58 L90.14 107.39M91.53 109.58 L92.24 107.08M94.9 97.71 L99.96 108.46M99.96 108.46 L97.99 106.77M99.96 108.46 L99.91 105.86M100 97.71 L106.86 106.34M106.86 106.34 L104.55 105.14M106.86 106.34 L106.21 103.82M105.1 97.71 L111.77 103.67M111.77 103.67 L109.29 102.88M111.77 103.67 L110.7 101.29M110.2 97.71 L115.16 101.15M115.16 101.15 L113.38 100.81M115.16 101.15 L114.22 99.6M115.3 97.71 L118.16 99.33M120.4 97.71 L121.68 98.32M59.2 102.81 L57.7 103.91M64.3 102.81 L61.53 105.28M69.4 102.81 L65.42 107.37M65.42 107.37 L65.95 105.64M65.42 107.37 L67.07 106.61M74.5 102.81 L70.11 109.82M70.11 109.82 L70.45 107.37M70.11 109.82 L72.17 108.44M79.6 102.81 L76.11 111.99M76.11 111.99 L75.96 109.4M76.11 111.99 L77.94 110.15M84.7 102.81 L83.28 113.28M83.28 113.28 L82.55 110.78M83.28 113.28 L84.65 111.07M89.8 102.81 L90.96 113.34M90.96 113.34 L89.64 111.1M90.96 113.34 L91.75 110.87M94.9 102.81 L98.22 112.17M98.22 112.17 L96.43 110.29M98.22 112.17 L98.43 109.58M100 102.81 L104.35 110.06M104.35 110.06 L102.27 108.61M104.35 110.06 L104.05 107.54M105.1 102.81 L109.16 107.61M109.16 107.61 L107.46 106.79M109.16 107.61 L108.63 105.8M110.2 102.81 L113.09 105.46M115.3 102.81 L116.9 104.01M64.3 107.91 L62.97 109.39M69.4 107.91 L67.41 110.75M74.5 107.91 L72.22 112.44M72.22 112.44 L72.29 110.92M72.22 112.44 L73.4 111.48M79.6 107.91 L77.72 114.04M77.72 114.04 L77.49 112.13M77.72 114.04 L78.99 112.59M84.7 107.91 L83.92 115.03M83.92 115.03 L83.26 112.98M83.92 115.03 L85.01 113.17M89.8 107.91 L90.43 115.08M90.43 115.08 L89.38 113.19M90.43 115.08 L91.13 113.04M94.9 107.91 L96.68 114.17M96.68 114.17 L95.43 112.67M96.68 114.17 L96.96 112.24M100 107.91 L102.27 112.62M102.27 112.62 L101.07 111.6M102.27 112.62 L102.22 111.05M105.1 107.91 L107.13 110.91M69.4 113.01 L68.59 114.38M74.5 113.01 L73.54 115.28M79.6 113.01 L78.79 116.16M84.7 113.01 L84.36 116.72M89.8 113.01 L90.07 116.75M94.9 113.01 L95.66 116.23M100 113.01 L100.95 115.37M79.6 118.11 L79.32 119.35" stroke="#fff" stroke-width="0.55" fill="none" stroke-opacity="0.55" stroke-linecap="round"/><path d="M69.4 46.71h0.6M74.5 46.71h0.6M100 46.71h0.6M105.1 46.71h0.6M110.2 46.71h0.6M59.2 51.81h0.6M64.3 51.81h0.6M110.2 51.81h0.6M115.3 51.81h0.6M120.4 51.81h0.6M54.1 56.91h0.6M59.2 56.91h0.6M115.3 56.91h0.6M120.4 56.91h0.6M125.5 56.91h0.6M49 62.01h0.6M54.1 62.01h0.6M120.4 62.01h0.6M125.5 62.01h0.6M130.59 62.01h0.6M43.9 67.11h0.6M49 67.11h0.6M125.5 67.11h0.6M130.59 67.11h0.6M43.9 72.21h0.6M49 72.21h0.6M125.5 72.21h0.6M130.59 72.21h0.6M38.8 77.31h0.6M43.9 77.31h0.6M49 77.31h0.6M125.5 77.31h0.6M130.59 77.31h0.6M38.8 82.41h0.6M43.9 82.41h0.6M49 82.41h0.6M84.7 82.41h0.6M89.8 82.41h0.6M125.5 82.41h0.6M130.59 82.41h0.6M38.8 87.51h0.6M43.9 87.51h0.6M49 87.51h0.6M125.5 87.51h0.6M38.8 92.61h0.6M43.9 92.61h0.6M49 92.61h0.6M125.5 92.61h0.6M43.9 97.71h0.6M49 97.71h0.6M43.9 102.81h0.6M49 102.81h0.6M54.1 102.81h0.6M49 107.91h0.6M54.1 107.91h0.6M59.2 107.91h0.6M54.1 113.01h0.6M59.2 113.01h0.6M64.3 113.01h0.6M69.4 118.11h0.6M74.5 118.11h0.6" stroke="#aab" stroke-width="0.9" stroke-opacity="0.4" stroke-linecap="round" fill="none"/><path d="M128.45 65.71 L129.09 68.37 L129.4 71.12 L129.38 73.94 L129.03 76.82 L128.36 79.73 L127.37 82.67 L126.07 85.6 L124.46 88.51 L122.58 91.38 L120.41 94.18 L118 96.9 L115.34 99.51 L112.47 101.98 L109.39 104.31 L106.15 106.47 L102.75 108.43 L99.22 110.18 L95.59 111.71 L91.89 112.98 L88.14 114 L84.37 114.75 L80.6 115.22 L76.87 115.4 L73.2 115.29 L69.62 114.88 L66.15 114.18 L62.83 113.19 L59.67 111.92 L56.7 110.38 L53.94 108.57 L51.42 106.53 L49.15 104.26 L47.16 101.79 L45.46 99.13 L44.06 96.31 L42.97 93.37 L42.22 90.32 L41.79 87.19 L41.7 84.01 L41.95 80.81 L42.54 77.61 L43.46 74.45 L44.71 71.36 L46.28 68.34 L48.16 65.44 L50.33 62.67 L52.78 60.06 L55.49 57.62 L58.43 55.36 L61.59 53.31 L64.93 51.48 L68.44 49.87 L72.08 48.5 L75.83 47.37 L79.65 46.48 L83.52 45.84 L87.4 45.45 L91.27 45.3 L95.08 45.4 L98.82 45.74 L102.46 46.31 L105.96 47.11 L109.29 48.13 L112.44 49.37 L115.38 50.81 L118.08 52.45 L120.54 54.27 L122.72 56.26 L124.61 58.41 L126.2 60.71 L127.49 63.15Z" fill="none" stroke="#00bb2c" stroke-width="1.05"/></g>
<defs><linearGradient id="jetbar" x1="0" y1="1" x2="0" y2="0"><stop offset="0" stop-color="#00008f"/><stop offset="0.125" stop-color="#0000ff"/><stop offset="0.375" stop-color="#00ffff"/><stop offset="0.625" stop-color="#ffff00"/><stop offset="0.875" stop-color="#ff0000"/><stop offset="1" stop-color="#800000"/></linearGradient></defs><rect x="599.4" y="26.3" width="9.4" height="138.8" fill="url(#jetbar)" stroke="#000" stroke-width="1"/>
<rect x="445.8" y="209.5" width="162.2" height="162.5" fill="#fff" stroke="#000" stroke-width="1.5"/>
<path d="M445.8 229.6h2.4M608 229.6h-2.4M445.8 249.97h2.4M608 249.97h-2.4M445.8 270.34h2.4M608 270.34h-2.4M445.8 290.71h2.4M608 290.71h-2.4M445.8 311.08h2.4M608 311.08h-2.4M445.8 331.45h2.4M608 331.45h-2.4M445.8 351.82h2.4M608 351.82h-2.4M486 372v-2.4M486 209.5v2.4M526.6 372v-2.4M526.6 209.5v2.4M567.6 372v-2.4M567.6 209.5v2.4" stroke="#000" stroke-width="1.1" fill="none"/>
<path d="M445.8 361.6L608 307.4" stroke="#000" stroke-width="1.7" fill="none"/>
<circle cx="479.9" cy="350.3" r="2" fill="#000"/>
<circle cx="512.4" cy="339.5" r="2" fill="#000"/>
<circle cx="537.7" cy="331" r="2" fill="#000"/>
<circle cx="553" cy="325.8" r="2" fill="#000"/>
<circle cx="559" cy="323.9" r="2" fill="#000"/>
<text x="399.3" y="235.4" font-size="16" textLength="38.1" lengthAdjust="spacingAndGlyphs">1.130</text>
<text x="399.3" y="276.1" font-size="16" textLength="38.1" lengthAdjust="spacingAndGlyphs">1.126</text>
<text x="399.3" y="316.8" font-size="16" textLength="38.1" lengthAdjust="spacingAndGlyphs">1.122</text>
<text x="399.3" y="357.5" font-size="16" textLength="38.1" lengthAdjust="spacingAndGlyphs">1.118</text>
<text x="469.7" y="390.5" font-size="16" textLength="30.1" lengthAdjust="spacingAndGlyphs">3.22</text>
<text x="513.5" y="390.5" font-size="16" textLength="29.5" lengthAdjust="spacingAndGlyphs">3.23</text>
<text x="556.9" y="390.5" font-size="16" textLength="30.1" lengthAdjust="spacingAndGlyphs">3.24</text>
<text x="403.9" y="207.4" font-size="18" font-weight="bold" textLength="12.2" lengthAdjust="spacingAndGlyphs">y</text>
<text x="412.8" y="215.5" font-size="31.5">/</text>
<text x="420.8" y="212.5" font-size="23" font-weight="bold" textLength="13.2" lengthAdjust="spacingAndGlyphs">λ</text>
<text x="592.1" y="389.2" font-size="20.5" font-weight="bold" textLength="13.1" lengthAdjust="spacingAndGlyphs">x</text>
<text x="605.3" y="392.8" font-size="31.5">/</text>
<text x="612.9" y="390" font-size="22" font-weight="bold" textLength="13.2" lengthAdjust="spacingAndGlyphs">λ</text>
<text x="587.8" y="230.6" font-size="22.5" font-weight="bold" textLength="9" lengthAdjust="spacingAndGlyphs">f</text>
<text x="598.6" y="230.6" font-size="22.5" textLength="5.8" lengthAdjust="spacingAndGlyphs">)</text>
<text x="475" y="365.3" font-size="20" textLength="10" lengthAdjust="spacingAndGlyphs">a</text>
<text x="507" y="355.7" font-size="20" textLength="11" lengthAdjust="spacingAndGlyphs">b</text>
<text x="532.3" y="348.9" font-size="20" textLength="8.7" lengthAdjust="spacingAndGlyphs">c</text>
<text x="545.8" y="343.1" font-size="20" textLength="9.7" lengthAdjust="spacingAndGlyphs">d</text>
<text x="557.4" y="337.7" font-size="20" textLength="9.3" lengthAdjust="spacingAndGlyphs">e</text>
<rect x="475.6" y="223.7" width="80.3" height="78.8" fill="#fff" stroke="#666" stroke-width="0.6"/>
<path d="M475.6 288.44 L476 283.99 L476.4 279.03 L476.8 273.67 L477.2 268.05 L477.6 262.3 L478 256.55 L478.4 250.93 L478.8 245.57 L479.2 240.61 L479.6 236.16 L480 232.32 L480.4 229.18 L480.8 226.82 L481.2 225.29 L481.6 224.63 L482 224.75 L482.4 225.44 L482.8 226.66 L483.2 228.4 L483.6 230.64 L484 233.34 L484.4 236.46 L484.8 239.96 L485.2 243.78 L485.6 247.87 L486 252.18 L486.4 256.63 L486.8 261.16 L487.2 265.71 L487.6 270.21 L488 274.6 L488.4 278.8 L488.8 282.77 L489.2 286.44 L489.6 289.75 L490 292.67 L490.4 295.14 L490.8 297.13 L491.2 298.62 L491.6 299.57 L492 299.98 L492.4 299.75 L492.8 298.65 L493.2 296.7 L493.6 293.94 L494 290.45 L494.4 286.29 L494.8 281.57 L495.2 276.39 L495.6 270.89 L496 265.19 L496.4 259.41 L496.8 253.71 L497.2 248.21 L497.6 243.03 L498 238.31 L498.4 234.15 L498.8 230.66 L499.2 227.9 L499.6 225.95 L500 224.85 L500.4 224.62 L500.8 225.03 L501.2 225.98 L501.6 227.47 L502 229.46 L502.4 231.93 L502.8 234.85 L503.2 238.16 L503.6 241.83 L504 245.8 L504.4 250 L504.8 254.39 L505.2 258.89 L505.6 263.44 L506 267.97 L506.4 272.42 L506.8 276.73 L507.2 280.82 L507.6 284.64 L508 288.14 L508.4 291.26 L508.8 293.96 L509.2 296.2 L509.6 297.94 L510 299.16 L510.4 299.85 L510.8 299.97 L511.2 299.31 L511.6 297.78 L512 295.42 L512.4 292.28 L512.8 288.44 L513.2 283.99 L513.6 279.03 L514 273.67 L514.4 268.05 L514.8 262.3 L515.2 256.55 L515.6 250.93 L516 245.57 L516.4 240.61 L516.8 236.16 L517.2 232.32 L517.6 229.18 L518 226.82 L518.4 225.29 L518.8 224.63 L519.2 224.75 L519.6 225.44 L520 226.66 L520.4 228.4 L520.8 230.64 L521.2 233.34 L521.6 236.46 L522 239.96 L522.4 243.78 L522.8 247.87 L523.2 252.18 L523.6 256.63 L524 261.16 L524.4 265.71 L524.8 270.21 L525.2 274.6 L525.6 278.8 L526 282.77 L526.4 286.44 L526.8 289.75 L527.2 292.67 L527.6 295.14 L528 297.13 L528.4 298.62 L528.8 299.57 L529.2 299.98 L529.6 299.75 L530 298.65 L530.4 296.7 L530.8 293.94 L531.2 290.45 L531.6 286.29 L532 281.57 L532.4 276.39 L532.8 270.89 L533.2 265.19 L533.6 259.41 L534 253.71 L534.4 248.21 L534.8 243.03 L535.2 238.31 L535.6 234.15 L536 230.66 L536.4 227.9 L536.8 225.95 L537.2 224.85 L537.6 224.62 L538 225.03 L538.4 225.98 L538.8 227.47 L539.2 229.46 L539.6 231.93 L540 234.85 L540.4 238.16 L540.8 241.83 L541.2 245.8 L541.6 250 L542 254.39 L542.4 258.89 L542.8 263.44 L543.2 267.97 L543.6 272.42 L544 276.73 L544.4 280.82 L544.8 284.64 L545.2 288.14 L545.6 291.26 L546 293.96 L546.4 296.2 L546.8 297.94 L547.2 299.16 L547.6 299.85 L548 299.97 L548.4 299.31 L548.8 297.78 L549.2 295.42 L549.6 292.28 L550 288.44 L550.4 283.99 L550.8 279.03 L551.2 273.67 L551.6 268.05 L552 262.3 L552.4 256.55 L552.8 250.93 L553.2 245.57 L553.6 240.61 L554 236.16 L554.4 232.32 L554.8 229.18 L555.2 226.82 L555.6 225.29" fill="none" stroke="#444" stroke-width="0.65"/>
<text x="473.4" y="227.6" font-size="8.2" textLength="10.2" lengthAdjust="spacingAndGlyphs" text-anchor="end" stroke="#000" stroke-width="0.2">2.1</text>
<text x="473.4" y="265.9" font-size="8.2" textLength="10.2" lengthAdjust="spacingAndGlyphs" text-anchor="end" stroke="#000" stroke-width="0.2">1.1</text>
<text x="473.4" y="304.4" font-size="8.2" text-anchor="end" stroke="#000" stroke-width="0.2">0</text>
<text x="471.5" y="312.5" font-size="8.2" textLength="14.4" lengthAdjust="spacingAndGlyphs" stroke="#000" stroke-width="0.2">1.02</text>
<text x="510.1" y="312.5" font-size="8.2" textLength="14.4" lengthAdjust="spacingAndGlyphs" stroke="#000" stroke-width="0.2">1.11</text>
<text x="546.6" y="312.5" font-size="8.2" textLength="14.4" lengthAdjust="spacingAndGlyphs" stroke="#000" stroke-width="0.2">1.19</text>
<text x="475.6" y="221.8" font-size="8.2" textLength="9.6" lengthAdjust="spacingAndGlyphs" stroke="#000" stroke-width="0.2">·10</text>
<text x="485.4" y="218.6" font-size="6.2" textLength="7.6" lengthAdjust="spacingAndGlyphs" stroke="#000" stroke-width="0.2">−4</text>
<g transform="translate(506.2 325.2)"><text x="0" y="0" font-size="10.5" font-weight="bold" textLength="3.6" lengthAdjust="spacingAndGlyphs">t</text><text x="3.9" y="1.6" font-size="12.5">/</text><g transform="translate(7.6 0)"><text x="0" y="0" font-size="10.5" font-style="italic" textLength="6.8" lengthAdjust="spacingAndGlyphs">ω</text><text x="7" y="2.4" font-size="6.5" font-weight="bold" textLength="3.4" lengthAdjust="spacingAndGlyphs">a</text><text x="7.6" y="-4" font-size="7" font-weight="bold" textLength="5" lengthAdjust="spacingAndGlyphs">−</text><text x="12.9" y="-4" font-size="7" font-weight="bold" textLength="3.6" lengthAdjust="spacingAndGlyphs">1</text></g></g>
<g transform="translate(460.4 278.8) rotate(-90)"><text x="0" y="0" font-size="10" font-weight="bold" textLength="5.4" lengthAdjust="spacingAndGlyphs">v</text><text x="5.6" y="1.6" font-size="12.5">/</text><text x="9.2" y="0" font-size="10.5" font-style="italic" textLength="5.4" lengthAdjust="spacingAndGlyphs">λ</text><g transform="translate(14.8 0)"><text x="0" y="0" font-size="10.5" font-style="italic" textLength="6.8" lengthAdjust="spacingAndGlyphs">ω</text><text x="7" y="2.4" font-size="6.5" font-weight="bold" textLength="3.4" lengthAdjust="spacingAndGlyphs">a</text><text x="7.6" y="-4" font-size="7" font-weight="bold" textLength="5" lengthAdjust="spacingAndGlyphs">−</text><text x="12.9" y="-4" font-size="7" font-weight="bold" textLength="3.6" lengthAdjust="spacingAndGlyphs">1</text></g></g>
<text x="21.6" y="21.5" font-size="15" font-weight="bold" fill="#fff" textLength="5.4" lengthAdjust="spacingAndGlyphs">t</text>
<text x="28.2" y="21.5" font-size="15" font-weight="bold" fill="#fff" textLength="15.2" lengthAdjust="spacingAndGlyphs">=</text>
<text x="45.3" y="21.5" font-size="15" font-weight="bold" fill="#fff" textLength="41.6" lengthAdjust="spacingAndGlyphs">10.37</text>
<text x="87.3" y="21.5" font-size="15.5" font-style="italic" fill="#fff" textLength="11.9" lengthAdjust="spacingAndGlyphs">ω</text>
<text x="99.4" y="25.2" font-size="10.5" font-weight="bold" fill="#fff" textLength="7" lengthAdjust="spacingAndGlyphs">a</text>
<text x="102" y="15.9" font-size="11" font-weight="bold" fill="#fff" textLength="8.6" lengthAdjust="spacingAndGlyphs">−</text>
<text x="112.2" y="15.9" font-size="11" font-weight="bold" fill="#fff" textLength="5.8" lengthAdjust="spacingAndGlyphs">1</text>
<text x="223" y="21.5" font-size="15" font-weight="bold" fill="#fff" textLength="5.4" lengthAdjust="spacingAndGlyphs">t</text>
<text x="229.6" y="21.5" font-size="15" font-weight="bold" fill="#fff" textLength="15.2" lengthAdjust="spacingAndGlyphs">=</text>
<text x="246.7" y="21.5" font-size="15" font-weight="bold" fill="#fff" textLength="52" lengthAdjust="spacingAndGlyphs">10.377</text>
<text x="299.1" y="21.5" font-size="15.5" font-style="italic" fill="#fff" textLength="11.5" lengthAdjust="spacingAndGlyphs">ω</text>
<text x="310.8" y="25.2" font-size="10.5" font-weight="bold" fill="#fff" textLength="7" lengthAdjust="spacingAndGlyphs">a</text>
<text x="313.4" y="15.9" font-size="11" font-weight="bold" fill="#fff" textLength="8.6" lengthAdjust="spacingAndGlyphs">−</text>
<text x="323.5" y="15.9" font-size="11" font-weight="bold" fill="#fff" textLength="5.8" lengthAdjust="spacingAndGlyphs">1</text>
<text x="424.8" y="21.5" font-size="15" font-weight="bold" fill="#fff" textLength="5.4" lengthAdjust="spacingAndGlyphs">t</text>
<text x="431.4" y="21.5" font-size="15" font-weight="bold" fill="#fff" textLength="15.2" lengthAdjust="spacingAndGlyphs">=</text>
<text x="448.5" y="21.5" font-size="15" font-weight="bold" fill="#fff" textLength="52.6" lengthAdjust="spacingAndGlyphs">10.382</text>
<text x="501.5" y="21.5" font-size="15.5" font-style="italic" fill="#fff" textLength="11.5" lengthAdjust="spacingAndGlyphs">ω</text>
<text x="513.2" y="25.2" font-size="10.5" font-weight="bold" fill="#fff" textLength="7" lengthAdjust="spacingAndGlyphs">a</text>
<text x="515.3" y="15.9" font-size="11" font-weight="bold" fill="#fff" textLength="8.6" lengthAdjust="spacingAndGlyphs">−</text>
<text x="524.8" y="15.9" font-size="11" font-weight="bold" fill="#fff" textLength="5.8" lengthAdjust="spacingAndGlyphs">1</text>
<text x="21.6" y="229.5" font-size="15" font-weight="bold" fill="#fff" textLength="5.4" lengthAdjust="spacingAndGlyphs">t</text>
<text x="28.2" y="229.5" font-size="15" font-weight="bold" fill="#fff" textLength="15.2" lengthAdjust="spacingAndGlyphs">=</text>
<text x="45.3" y="229.5" font-size="15" font-weight="bold" fill="#fff" textLength="51.5" lengthAdjust="spacingAndGlyphs">10.387</text>
<text x="97.2" y="229.5" font-size="15.5" font-style="italic" fill="#fff" textLength="11.5" lengthAdjust="spacingAndGlyphs">ω</text>
<text x="108.9" y="233.2" font-size="10.5" font-weight="bold" fill="#fff" textLength="7.5" lengthAdjust="spacingAndGlyphs">a</text>
<text x="111.9" y="223.9" font-size="11" font-weight="bold" fill="#fff" textLength="8.6" lengthAdjust="spacingAndGlyphs">−</text>
<text x="121.6" y="223.9" font-size="11" font-weight="bold" fill="#fff" textLength="5.8" lengthAdjust="spacingAndGlyphs">1</text>
<text x="223" y="229.5" font-size="15" font-weight="bold" fill="#fff" textLength="5.4" lengthAdjust="spacingAndGlyphs">t</text>
<text x="229.6" y="229.5" font-size="15" font-weight="bold" fill="#fff" textLength="15.2" lengthAdjust="spacingAndGlyphs">=</text>
<text x="246.7" y="229.5" font-size="15" font-weight="bold" fill="#fff" textLength="52.5" lengthAdjust="spacingAndGlyphs">10.392</text>
<text x="299.6" y="229.5" font-size="15.5" font-style="italic" fill="#fff" textLength="11" lengthAdjust="spacingAndGlyphs">ω</text>
<text x="310.8" y="233.2" font-size="10.5" font-weight="bold" fill="#fff" textLength="7.2" lengthAdjust="spacingAndGlyphs">a</text>
<text x="313.4" y="223.9" font-size="11" font-weight="bold" fill="#fff" textLength="8.6" lengthAdjust="spacingAndGlyphs">−</text>
<text x="323.7" y="223.9" font-size="11" font-weight="bold" fill="#fff" textLength="5.8" lengthAdjust="spacingAndGlyphs">1</text>
<text x="156" y="21.5" font-size="20.5" font-weight="bold" fill="#fff" textLength="11.8" lengthAdjust="spacingAndGlyphs">a</text>
<text x="169.5" y="21.5" font-size="22.5" fill="#fff" textLength="5.6" lengthAdjust="spacingAndGlyphs">)</text>
<text x="357.6" y="21.9" font-size="22.5" fill="#fff" textLength="12.2" lengthAdjust="spacingAndGlyphs" stroke="#fff" stroke-width="0.45">b</text>
<text x="372.2" y="21.9" font-size="22.5" fill="#fff" textLength="5.6" lengthAdjust="spacingAndGlyphs">)</text>
<text x="558.4" y="21.5" font-size="20.5" font-weight="bold" fill="#fff" textLength="10.2" lengthAdjust="spacingAndGlyphs">c</text>
<text x="570.8" y="21.5" font-size="22.5" fill="#fff" textLength="5.6" lengthAdjust="spacingAndGlyphs">)</text>
<text x="155" y="230.2" font-size="22.5" fill="#fff" textLength="12" lengthAdjust="spacingAndGlyphs" stroke="#fff" stroke-width="0.45">d</text>
<text x="169.7" y="230.2" font-size="22.5" fill="#fff" textLength="5.6" lengthAdjust="spacingAndGlyphs">)</text>
<text x="358.7" y="230.4" font-size="20.5" font-weight="bold" fill="#fff" textLength="10.6" lengthAdjust="spacingAndGlyphs">e</text>
<text x="370.2" y="230.4" font-size="22.5" fill="#fff" textLength="5.6" lengthAdjust="spacingAndGlyphs">)</text>
<text x="-0.2" y="10.5" font-size="20.5" font-weight="bold" textLength="12.2" lengthAdjust="spacingAndGlyphs">y</text>
<text x="199" y="10.5" font-size="20.5" font-weight="bold" textLength="12.2" lengthAdjust="spacingAndGlyphs">y</text>
<text x="399.9" y="10.6" font-size="20.5" font-weight="bold" textLength="12.2" lengthAdjust="spacingAndGlyphs">y</text>
<text x="-0.2" y="215.6" font-size="21.5" font-weight="bold" textLength="12.2" lengthAdjust="spacingAndGlyphs">y</text>
<text x="199.8" y="215.6" font-size="21.5" font-weight="bold" textLength="12.2" lengthAdjust="spacingAndGlyphs">y</text>
<text x="167.7" y="183" font-size="21.5" font-weight="bold" textLength="13" lengthAdjust="spacingAndGlyphs">x</text>
<text x="367.7" y="183" font-size="21.5" font-weight="bold" textLength="13" lengthAdjust="spacingAndGlyphs">x</text>
<text x="567.1" y="183.4" font-size="21.5" font-weight="bold" textLength="13" lengthAdjust="spacingAndGlyphs">x</text>
<text x="167.7" y="390" font-size="21.5" font-weight="bold" textLength="13" lengthAdjust="spacingAndGlyphs">x</text>
<text x="367.7" y="390" font-size="21.5" font-weight="bold" textLength="13" lengthAdjust="spacingAndGlyphs">x</text>
<text x="595.5" y="15.2" font-size="23.5" font-weight="bold" textLength="14.2" lengthAdjust="spacingAndGlyphs">T</text>
<text x="613.6" y="15.2" font-size="22" font-weight="bold">,</text>
<text x="622" y="15.2" font-size="22" font-weight="bold" textLength="13.5" lengthAdjust="spacingAndGlyphs">p</text>
<text x="615.2" y="41.3" font-size="20" font-weight="bold" textLength="9.2" lengthAdjust="spacingAndGlyphs">1</text>
<text x="614.8" y="164.3" font-size="20" font-weight="bold" textLength="11.5" lengthAdjust="spacingAndGlyphs">0</text></svg></body></html>
